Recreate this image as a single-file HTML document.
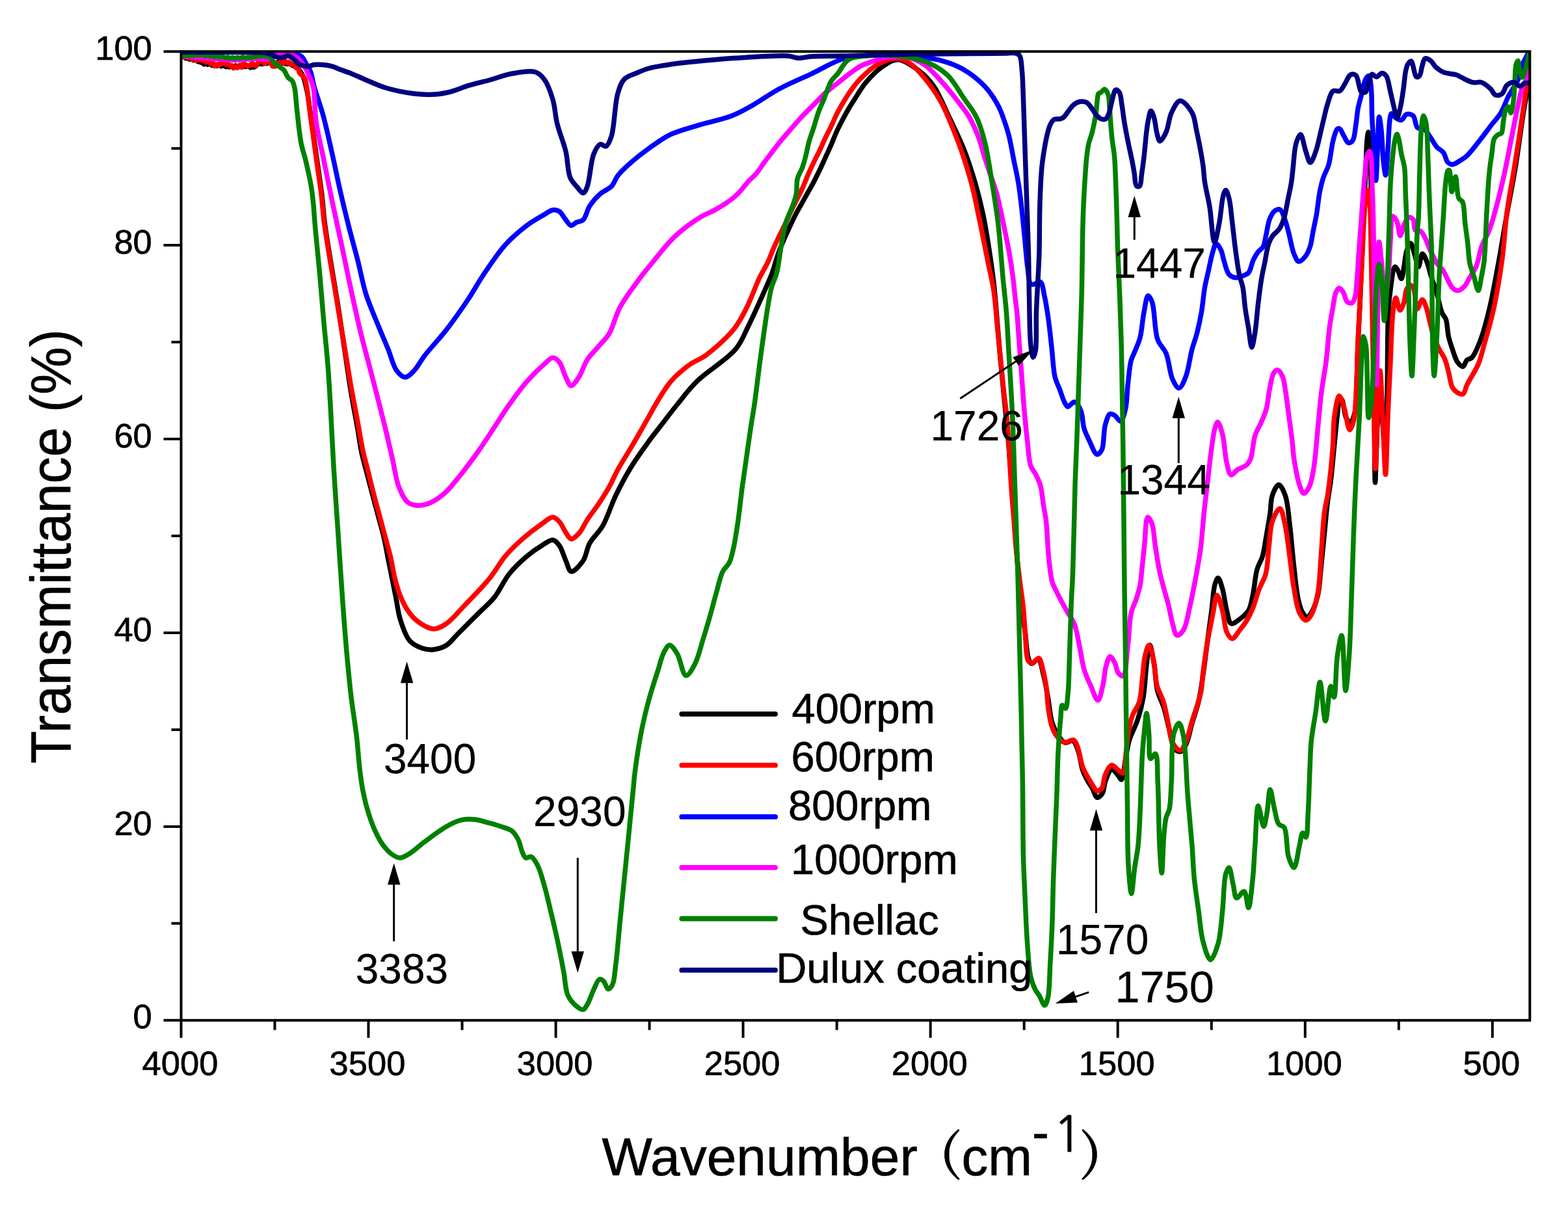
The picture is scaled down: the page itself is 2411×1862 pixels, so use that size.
<!DOCTYPE html>
<html><head><meta charset="utf-8"><style>html,body{margin:0;padding:0;background:#fff;}svg{display:block;}</style></head><body>
<svg xmlns="http://www.w3.org/2000/svg" width="2411" height="1862" viewBox="0 0 2411 1862">
<rect width="2411" height="1862" fill="#ffffff"/>
<defs><clipPath id="pc"><rect x="278.5" y="79.2" width="2073.8" height="1489.6"/></clipPath></defs>
<g clip-path="url(#pc)">
<path d="M278.0 82.0 C278.7 82.9 280.9 85.9 282.4 87.3 C283.6 88.4 284.9 89.8 286.0 89.8 C286.8 89.8 287.4 88.3 288.2 88.4 C289.2 88.4 290.4 91.1 291.6 91.3 C292.7 91.4 293.9 89.7 294.8 89.9 C295.8 90.1 296.2 92.5 297.2 92.7 C298.2 93.0 299.6 91.0 300.6 91.3 C301.8 91.5 302.7 94.5 303.7 94.7 C304.4 94.8 305.1 93.6 305.8 93.7 C306.7 93.8 307.5 95.9 308.5 96.0 C309.5 96.2 310.7 94.5 311.6 94.8 C312.6 95.2 312.8 98.9 313.7 99.0 C314.6 99.1 315.8 95.7 316.7 95.8 C317.6 95.9 318.1 99.1 319.2 99.4 C320.1 99.6 321.5 97.3 322.6 97.5 C323.8 97.6 324.8 100.4 326.1 100.7 C327.3 100.9 328.7 99.2 329.9 99.4 C331.1 99.5 332.2 101.5 333.3 101.5 C334.4 101.4 335.3 99.3 336.3 99.3 C337.4 99.3 338.6 101.8 339.9 101.9 C341.1 102.1 342.4 100.2 343.6 100.2 C344.9 100.4 346.3 102.8 347.4 102.8 C348.3 102.7 349.1 100.7 349.9 100.8 C350.7 100.8 351.3 103.1 352.3 103.2 C353.3 103.4 354.8 101.2 356.0 101.2 C357.2 101.2 358.3 103.2 359.4 103.2 C360.5 103.1 361.7 100.9 362.7 101.0 C363.6 101.0 364.2 103.1 365.1 103.2 C366.1 103.3 367.3 101.4 368.4 101.4 C369.5 101.5 370.6 103.5 371.8 103.5 C372.9 103.5 374.1 101.5 375.2 101.4 C376.1 101.4 377.0 102.8 377.8 102.7 C378.6 102.6 379.3 100.8 380.1 100.7 C380.9 100.7 381.7 101.9 382.6 102.4 C383.5 102.9 384.6 104.0 385.5 103.9 C386.4 103.9 387.4 102.0 388.2 102.0 C389.0 102.0 389.7 103.6 390.5 103.6 C391.5 103.6 392.8 102.3 393.9 101.3 C395.2 100.2 396.2 97.4 397.5 97.1 C398.5 96.8 399.6 98.2 400.8 98.4 C402.0 98.6 403.5 98.5 404.7 98.2 C405.7 97.8 406.5 96.6 407.4 96.6 C408.2 96.6 408.9 97.8 409.7 97.8 C410.6 97.8 411.6 97.0 412.6 96.4 C413.8 95.7 415.1 93.6 416.3 93.6 C417.5 93.5 418.6 95.1 419.7 95.7 C420.8 96.3 421.9 97.0 423.0 97.2 C424.0 97.4 425.0 97.6 425.9 97.2 C427.1 96.7 428.1 93.8 429.1 93.7 C429.9 93.7 430.5 95.6 431.4 96.2 C432.3 96.7 433.5 97.0 434.6 97.2 C435.6 97.4 436.8 97.3 437.7 97.5 C438.5 97.7 439.1 98.3 439.9 98.4 C440.8 98.6 442.0 98.4 443.1 98.3 C444.3 98.1 445.8 96.9 446.9 97.2 C448.1 97.6 448.7 100.3 449.8 100.8 C450.8 101.3 451.9 100.3 453.0 100.6 C454.6 101.2 456.3 103.1 458.0 105.0 C460.3 107.5 463.0 110.7 465.0 115.0 C468.0 121.3 470.0 130.6 472.0 140.0 C474.5 151.7 475.8 164.8 478.0 180.0 C480.9 200.1 485.0 228.6 488.0 250.0 C490.6 268.1 493.1 284.2 495.0 300.0 C496.7 314.1 497.3 326.9 499.0 340.3 C500.7 353.8 503.0 368.1 505.0 380.6 C506.7 391.4 508.3 400.8 510.0 410.9 C511.7 421.0 513.3 431.0 515.0 441.1 C516.7 451.2 518.4 461.3 520.0 471.4 C521.6 481.5 523.0 491.5 524.5 501.6 C526.0 511.7 527.5 521.8 529.0 531.9 C530.5 542.0 532.0 551.7 533.5 562.1 C535.1 573.1 536.7 584.7 538.5 596.0 C540.3 607.3 542.5 619.0 544.5 630.0 C546.4 640.3 548.2 649.7 550.0 660.0 C551.9 671.0 553.3 682.7 555.6 694.0 C558.0 705.4 561.3 716.9 564.2 728.1 C567.0 739.0 569.9 749.5 572.7 760.2 C575.5 770.9 578.4 781.5 581.2 792.2 C584.1 802.9 587.3 813.5 589.8 824.2 C592.3 834.8 594.1 845.5 596.2 856.2 C598.3 866.9 600.5 877.6 602.6 888.3 C604.7 899.0 606.9 909.6 609.0 920.3 C611.1 931.0 612.1 941.7 615.4 952.3 C618.9 963.4 623.2 977.7 630.0 985.3 C635.4 991.4 643.4 994.8 650.0 997.0 C655.6 998.8 661.0 999.3 666.7 998.7 C673.1 998.0 680.7 995.7 686.7 992.0 C693.0 988.1 696.8 981.8 703.3 975.3 C712.5 966.1 726.6 952.1 736.7 942.0 C745.2 933.5 752.7 927.8 760.0 918.7 C768.4 908.2 774.6 892.8 783.3 882.0 C791.4 871.9 801.1 862.8 810.0 855.3 C817.8 848.7 826.0 843.1 833.3 838.7 C839.2 835.2 845.3 829.8 850.0 830.3 C853.9 830.8 857.1 834.7 860.0 838.7 C864.1 844.2 866.7 854.9 870.0 862.0 C872.8 868.1 874.4 878.0 878.3 878.7 C882.9 879.6 892.0 868.9 896.7 862.0 C901.7 854.6 902.0 843.9 906.7 835.3 C911.8 826.0 920.6 819.2 926.7 808.7 C934.2 795.7 939.4 777.1 946.7 762.0 C953.9 747.1 961.5 732.7 970.0 718.7 C978.6 704.7 989.3 690.0 998.0 678.0 C1005.1 668.3 1011.1 661.0 1018.0 652.0 C1025.5 642.3 1032.9 632.3 1041.3 622.0 C1050.6 610.6 1058.9 598.9 1071.3 586.7 C1087.3 570.8 1117.6 553.4 1131.3 536.7 C1141.3 524.5 1144.8 512.9 1151.3 500.0 C1158.2 486.3 1165.1 470.6 1171.3 456.7 C1177.0 444.0 1182.6 432.0 1187.1 420.0 C1191.3 408.7 1194.2 396.5 1197.8 386.7 C1200.7 378.7 1203.7 372.2 1206.7 365.3 C1209.6 358.6 1212.6 352.2 1215.6 345.8 C1218.5 339.7 1221.4 333.6 1224.4 327.8 C1227.3 322.3 1230.3 317.3 1233.3 312.0 C1236.3 306.7 1239.2 301.3 1242.2 296.0 C1245.2 290.7 1248.2 285.5 1251.1 280.0 C1254.1 274.3 1257.1 268.3 1260.0 262.2 C1263.0 255.9 1265.9 249.2 1268.9 242.7 C1271.9 236.2 1274.9 229.8 1277.8 223.1 C1280.8 216.2 1283.6 208.5 1286.7 201.8 C1289.6 195.5 1292.6 189.7 1295.6 184.0 C1298.5 178.5 1301.4 173.1 1304.4 168.0 C1307.3 163.1 1310.3 158.5 1313.3 153.8 C1316.3 149.1 1319.2 144.1 1322.2 139.6 C1325.1 135.3 1327.0 131.8 1331.1 127.1 C1337.4 119.8 1348.8 107.7 1358.0 101.7 C1365.6 96.7 1372.9 91.3 1381.3 91.7 C1391.5 92.2 1405.3 102.8 1414.7 110.0 C1423.1 116.5 1429.0 122.8 1435.5 132.1 C1444.1 144.4 1451.4 163.2 1459.2 179.5 C1467.3 196.4 1476.1 214.3 1482.9 231.7 C1489.4 248.3 1494.7 264.9 1499.5 281.4 C1504.1 297.3 1507.9 312.4 1511.4 328.8 C1515.1 346.3 1518.1 365.3 1520.9 383.3 C1523.6 400.7 1526.0 417.5 1528.0 435.0 C1530.1 453.0 1531.4 471.3 1533.0 490.0 C1534.7 509.6 1536.1 529.1 1538.0 550.0 C1540.1 572.9 1542.7 598.5 1545.0 622.0 C1547.2 644.7 1549.4 666.5 1551.3 688.7 C1553.2 710.9 1554.6 733.1 1556.3 755.3 C1558.0 777.5 1559.6 799.8 1561.3 822.0 C1563.0 844.2 1564.5 868.1 1566.3 888.7 C1567.9 906.6 1569.4 923.7 1571.3 938.7 C1572.8 950.9 1574.7 960.4 1576.3 972.0 C1578.0 984.7 1578.5 1003.8 1581.3 1012.0 C1582.7 1016.0 1584.0 1019.8 1586.3 1020.3 C1588.9 1020.9 1593.5 1012.8 1596.3 1013.7 C1600.4 1015.1 1602.3 1029.7 1604.7 1038.7 C1607.4 1048.9 1609.2 1060.4 1611.3 1072.0 C1613.6 1084.7 1614.5 1101.2 1618.0 1112.0 C1620.6 1120.0 1624.2 1126.7 1628.0 1132.0 C1631.0 1136.2 1634.2 1141.0 1638.0 1142.0 C1641.5 1142.9 1646.5 1137.3 1649.7 1138.7 C1653.6 1140.4 1655.7 1148.9 1658.0 1155.3 C1660.9 1163.4 1661.9 1175.9 1664.7 1184.0 C1666.8 1190.2 1669.4 1195.1 1672.0 1200.0 C1674.3 1204.4 1677.1 1207.8 1679.5 1212.0 C1682.1 1216.5 1684.0 1225.6 1687.0 1226.2 C1689.4 1226.7 1693.0 1223.1 1695.0 1220.0 C1697.9 1215.5 1697.5 1206.2 1700.0 1200.0 C1702.4 1193.9 1705.9 1183.6 1709.4 1183.0 C1712.3 1182.5 1716.4 1189.1 1719.0 1192.0 C1721.1 1194.3 1722.7 1199.2 1724.3 1198.8 C1727.4 1198.1 1728.9 1175.6 1731.0 1165.0 C1732.9 1155.7 1733.6 1147.9 1736.3 1138.7 C1739.5 1128.1 1746.1 1116.6 1749.7 1105.3 C1753.3 1094.3 1755.9 1084.3 1758.0 1072.0 C1760.6 1057.1 1761.1 1036.5 1763.0 1022.0 C1764.5 1010.7 1766.1 992.1 1768.0 992.0 C1770.0 991.9 1772.8 1011.2 1774.7 1022.0 C1776.8 1034.3 1776.8 1050.2 1779.7 1062.0 C1782.2 1072.0 1786.8 1079.2 1789.7 1088.7 C1792.9 1099.1 1795.2 1111.2 1798.0 1122.0 C1800.7 1132.3 1801.7 1147.1 1806.3 1152.0 C1809.0 1154.8 1813.4 1156.3 1816.3 1155.3 C1819.8 1154.0 1822.2 1147.5 1824.7 1142.0 C1828.2 1134.2 1830.0 1122.2 1833.0 1112.0 C1836.1 1101.2 1840.3 1090.4 1843.0 1078.7 C1845.9 1066.1 1847.6 1052.8 1849.7 1038.7 C1852.1 1023.0 1854.1 1005.4 1856.3 988.7 C1858.5 972.0 1861.0 954.4 1863.0 938.7 C1864.8 924.6 1865.4 907.4 1868.0 898.7 C1869.4 894.1 1871.3 888.6 1873.0 888.7 C1875.2 888.8 1877.7 898.7 1879.7 905.3 C1882.4 914.4 1883.7 929.1 1886.3 938.7 C1888.3 946.3 1889.1 957.1 1893.0 958.7 C1896.3 960.0 1902.1 955.0 1906.3 952.0 C1911.0 948.6 1916.4 944.3 1919.7 938.7 C1923.4 932.4 1924.3 924.2 1926.3 915.3 C1928.9 903.8 1929.9 886.2 1933.0 875.3 C1935.3 867.3 1939.1 862.6 1941.3 855.3 C1943.7 847.2 1944.6 838.5 1946.3 828.7 C1948.4 816.7 1951.3 800.7 1953.0 788.7 C1954.4 778.9 1953.7 769.6 1956.3 762.0 C1958.5 755.5 1963.0 745.3 1966.3 745.3 C1969.6 745.3 1973.7 754.8 1976.3 762.0 C1980.2 772.8 1981.0 789.3 1983.0 805.3 C1985.5 825.1 1987.3 851.4 1989.7 872.0 C1991.8 889.9 1993.3 909.2 1996.3 922.0 C1998.2 930.3 2000.1 937.3 2003.0 942.0 C2004.9 945.1 2007.5 948.7 2009.7 948.7 C2011.9 948.7 2014.2 945.3 2016.3 942.0 C2019.9 936.3 2023.9 925.4 2026.3 915.3 C2029.3 902.8 2029.7 887.0 2031.3 872.0 C2033.0 855.9 2034.6 838.7 2036.3 822.0 C2038.0 805.3 2039.4 787.0 2041.3 772.0 C2042.8 759.8 2044.8 750.9 2046.3 738.7 C2048.2 723.7 2049.6 705.4 2051.3 688.7 C2053.0 672.0 2054.6 652.3 2056.3 638.7 C2057.5 629.3 2057.7 617.8 2060.0 615.0 C2060.9 614.0 2062.1 613.5 2063.0 614.0 C2065.8 615.6 2066.6 635.7 2069.7 642.0 C2071.6 645.8 2074.3 650.3 2076.3 650.0 C2078.8 649.7 2081.4 641.5 2083.0 635.0 C2085.7 624.2 2085.2 606.1 2086.0 590.0 C2086.9 571.4 2087.2 550.0 2088.0 530.0 C2088.8 510.0 2090.0 490.8 2091.0 470.0 C2092.0 447.6 2093.0 423.3 2094.0 400.0 C2095.0 376.7 2096.0 353.3 2097.0 330.0 C2098.0 306.7 2099.1 280.8 2100.0 260.0 C2100.7 243.3 2100.9 225.2 2102.0 215.0 C2102.6 209.7 2103.3 203.0 2104.0 203.0 C2104.7 203.0 2105.5 209.7 2106.0 215.0 C2107.0 225.2 2107.0 243.3 2107.5 260.0 C2108.1 280.8 2108.5 303.5 2109.0 330.0 C2109.7 364.6 2110.4 407.8 2111.0 450.0 C2111.7 497.2 2112.4 550.7 2113.0 600.0 C2113.6 648.0 2113.5 742.0 2114.5 742.0 C2115.3 742.0 2116.6 678.6 2118.0 650.0 C2119.2 625.1 2120.7 580.0 2122.0 580.0 C2123.3 580.0 2124.4 628.6 2126.0 650.0 C2127.3 668.1 2129.4 700.0 2130.5 700.0 C2132.1 699.9 2132.3 634.9 2133.0 600.0 C2133.8 561.6 2133.1 508.0 2134.8 479.0 C2135.7 462.6 2136.8 452.6 2138.6 440.6 C2140.2 429.9 2141.9 411.2 2144.7 410.4 C2146.0 410.0 2147.6 412.9 2149.0 415.0 C2151.1 418.2 2153.2 428.6 2154.8 428.5 C2156.6 428.3 2157.5 416.9 2158.8 410.4 C2160.2 402.9 2160.7 392.8 2162.8 386.2 C2164.4 381.3 2167.0 374.0 2168.9 374.1 C2171.1 374.2 2173.0 384.5 2174.9 390.2 C2177.0 396.5 2179.0 410.4 2181.0 410.4 C2183.0 410.4 2184.6 390.5 2187.0 390.2 C2188.8 390.0 2191.2 396.0 2193.1 400.3 C2196.0 406.9 2198.4 418.0 2201.1 426.5 C2203.7 434.7 2206.6 442.1 2209.2 450.7 C2212.1 460.2 2214.2 473.8 2217.3 481.0 C2219.2 485.4 2221.7 486.7 2223.3 491.0 C2225.6 497.5 2225.5 509.2 2227.3 517.3 C2228.9 524.5 2231.1 530.7 2233.4 537.4 C2235.8 544.2 2238.1 553.1 2241.5 557.6 C2243.8 560.6 2247.2 564.0 2249.5 563.6 C2252.0 563.1 2253.1 555.8 2255.6 553.5 C2257.7 551.6 2260.6 552.4 2263.0 550.0 C2267.6 545.5 2272.3 533.6 2276.3 523.3 C2281.4 510.1 2285.6 493.7 2289.7 476.7 C2294.6 456.5 2298.7 433.0 2303.0 410.0 C2307.6 385.4 2311.8 358.6 2316.3 333.3 C2320.7 308.6 2325.4 285.7 2329.7 260.0 C2334.4 231.6 2339.0 194.8 2343.0 170.0 C2345.9 152.4 2349.7 132.5 2351.0 125.0" fill="none" stroke="#000000" stroke-width="7.5" stroke-linejoin="round" stroke-linecap="round"/>
<path d="M278.0 86.0 C279.0 86.3 282.3 87.9 284.0 87.7 C285.3 87.6 286.4 85.9 287.5 86.1 C288.6 86.3 289.5 89.2 290.4 89.2 C291.2 89.2 291.9 87.0 292.7 87.1 C293.6 87.2 294.6 91.8 295.5 91.8 C296.5 91.8 297.4 87.2 298.4 87.2 C299.6 87.2 301.2 93.4 302.2 93.4 C303.1 93.4 303.5 89.2 304.4 89.0 C305.2 88.9 306.2 92.2 307.2 92.3 C307.9 92.4 308.6 90.7 309.3 90.8 C310.3 90.9 311.3 93.7 312.3 93.8 C313.1 93.9 314.1 91.9 314.8 92.0 C315.7 92.2 316.0 95.5 316.9 95.8 C317.8 96.0 319.1 93.9 320.2 94.0 C321.5 94.2 322.5 97.5 323.8 97.8 C324.9 98.1 326.3 96.6 327.2 97.0 C328.5 97.5 329.1 101.7 330.1 101.8 C330.9 101.9 331.7 99.2 332.8 99.0 C333.8 98.8 335.4 100.8 336.4 100.5 C337.3 100.2 337.6 97.5 338.5 97.1 C339.3 96.9 340.5 98.3 341.4 98.1 C342.6 97.8 343.7 94.6 344.7 94.7 C345.8 94.8 346.5 98.7 347.6 99.1 C348.5 99.4 349.8 97.7 350.7 97.9 C351.6 98.2 351.8 100.7 352.8 101.1 C353.8 101.6 355.7 100.2 356.7 100.7 C357.8 101.3 358.1 104.6 359.1 104.8 C360.1 105.1 361.5 102.6 362.6 102.7 C363.5 102.7 364.3 104.5 365.1 104.4 C366.2 104.2 367.2 100.2 368.3 100.2 C369.3 100.1 370.4 103.7 371.3 103.6 C372.6 103.5 373.5 96.9 374.8 96.7 C375.9 96.6 377.1 99.3 378.3 100.2 C379.3 100.9 380.3 101.9 381.4 101.9 C382.6 101.9 383.9 100.7 385.1 99.9 C386.2 99.1 387.1 97.0 388.1 97.0 C389.0 97.0 389.8 99.1 390.8 99.8 C391.8 100.6 393.1 101.8 394.0 101.6 C395.1 101.3 395.6 98.7 396.5 97.1 C397.6 95.4 398.8 91.9 400.2 91.8 C401.3 91.6 402.5 93.9 403.7 94.9 C404.8 95.9 406.0 97.6 407.0 97.6 C407.8 97.6 408.5 96.6 409.2 96.0 C410.0 95.1 410.7 92.9 411.5 92.9 C412.2 92.9 412.8 95.2 413.7 95.6 C414.4 96.0 415.4 95.2 416.1 95.7 C417.3 96.5 417.8 101.4 419.0 102.1 C419.7 102.4 420.4 101.9 421.1 101.8 C421.9 101.8 422.8 102.3 423.6 101.9 C424.7 101.3 425.4 97.6 426.6 97.2 C427.6 96.9 429.2 99.1 430.2 98.7 C431.3 98.2 431.5 93.4 432.5 93.2 C433.5 93.1 434.9 96.9 435.9 96.9 C436.8 96.8 437.5 93.6 438.4 93.5 C439.3 93.5 440.4 96.7 441.4 96.9 C442.3 97.0 443.3 95.0 444.2 95.2 C445.4 95.4 446.2 98.9 447.5 99.5 C448.6 100.0 450.2 98.6 451.3 99.1 C452.8 99.7 453.6 103.4 455.0 104.3 C456.0 105.0 457.5 104.3 458.4 105.1 C459.7 106.3 459.2 109.8 460.5 112.0 C462.1 114.6 466.1 116.5 467.8 119.4 C469.6 122.4 470.0 125.2 471.0 130.0 C473.0 139.5 474.5 156.7 476.7 173.0 C479.6 194.3 483.6 224.1 486.7 246.7 C489.4 265.9 492.2 283.5 494.2 300.0 C495.9 314.4 496.5 326.9 498.2 340.3 C499.9 353.8 502.3 368.1 504.3 380.6 C506.0 391.4 507.6 400.8 509.3 410.9 C511.0 421.0 512.7 431.0 514.4 441.1 C516.1 451.2 517.7 461.3 519.4 471.4 C521.1 481.5 522.7 491.5 524.4 501.6 C526.1 511.7 527.8 521.8 529.5 531.9 C531.2 542.0 532.8 551.7 534.5 562.1 C536.3 573.1 538.0 584.7 540.0 596.0 C542.0 607.3 544.4 619.0 546.5 630.0 C548.4 640.3 550.1 649.8 552.0 660.0 C553.9 670.5 555.5 681.2 557.8 692.0 C560.2 703.2 563.5 714.6 566.3 726.0 C569.1 737.4 571.9 749.0 574.8 760.2 C577.6 771.1 580.5 781.5 583.4 792.2 C586.2 802.9 589.1 813.5 591.9 824.2 C594.8 834.9 598.0 845.5 600.5 856.2 C603.0 866.9 604.3 878.1 606.9 888.3 C609.3 897.9 612.0 907.5 615.4 916.0 C618.5 923.7 621.8 930.9 626.1 937.4 C630.3 943.7 634.8 949.7 641.0 954.5 C648.0 959.8 658.6 966.8 666.7 967.0 C673.7 967.2 680.0 963.2 686.7 958.7 C695.5 952.8 703.6 942.1 713.3 932.0 C725.4 919.4 742.1 902.6 753.3 888.7 C762.6 877.2 768.2 865.5 776.7 855.3 C784.9 845.5 793.9 837.0 803.3 828.7 C812.8 820.3 824.6 811.3 833.3 805.3 C839.5 801.0 845.2 795.2 850.0 795.3 C853.8 795.4 857.0 798.8 860.0 802.0 C863.8 806.0 866.6 814.0 870.0 818.7 C872.7 822.6 875.1 828.3 878.3 828.7 C881.7 829.1 886.3 824.2 890.0 820.3 C894.9 815.1 898.5 806.0 903.3 798.7 C908.4 791.0 914.6 783.4 920.0 775.3 C925.7 766.8 931.6 757.7 936.7 748.7 C941.6 739.9 944.9 731.3 950.0 722.0 C955.8 711.4 962.8 700.9 970.0 688.7 C978.6 674.0 991.1 652.3 998.0 640.0 C1002.2 632.6 1003.8 628.9 1008.0 622.0 C1014.0 612.1 1022.3 597.1 1031.3 586.7 C1040.1 576.5 1051.6 567.0 1061.3 560.0 C1069.3 554.3 1076.1 553.0 1084.7 546.7 C1097.4 537.4 1117.0 520.2 1128.0 506.7 C1136.9 495.7 1141.7 485.6 1148.0 473.3 C1155.2 459.3 1161.9 439.3 1168.0 426.7 C1172.3 417.8 1176.5 411.8 1180.0 404.4 C1183.4 397.3 1185.9 390.0 1188.9 383.1 C1191.8 376.4 1194.8 369.9 1197.8 363.6 C1200.7 357.5 1203.8 351.9 1206.7 345.8 C1209.7 339.5 1212.6 332.6 1215.6 326.2 C1218.5 320.1 1221.4 314.3 1224.4 308.4 C1227.3 302.5 1230.4 296.9 1233.3 290.7 C1236.4 284.0 1239.2 276.2 1242.2 269.3 C1245.1 262.6 1248.1 256.1 1251.1 249.8 C1254.0 243.7 1257.1 238.1 1260.0 232.0 C1263.0 225.7 1265.9 218.7 1268.9 212.4 C1271.8 206.3 1274.9 200.8 1277.8 194.7 C1280.8 188.4 1283.6 181.2 1286.7 175.1 C1289.6 169.4 1292.6 164.2 1295.6 159.1 C1298.5 154.2 1301.4 149.4 1304.4 144.9 C1307.3 140.6 1310.3 136.3 1313.3 132.4 C1316.2 128.7 1318.2 125.8 1322.2 121.8 C1328.4 115.6 1338.5 105.3 1348.0 100.0 C1357.2 94.8 1369.0 90.0 1378.0 90.0 C1385.3 90.0 1391.4 92.5 1398.0 96.7 C1406.9 102.3 1416.5 113.9 1424.7 124.0 C1433.3 134.6 1440.8 145.7 1448.0 159.0 C1456.5 174.7 1465.1 197.1 1471.3 213.0 C1476.1 225.3 1479.2 234.4 1483.0 246.0 C1487.1 258.7 1491.1 271.7 1494.8 286.2 C1499.1 302.9 1502.7 322.1 1506.6 340.7 C1510.6 360.0 1514.8 381.3 1518.5 399.9 C1521.8 416.6 1525.5 430.7 1528.0 447.3 C1530.7 465.4 1531.9 486.1 1533.7 504.5 C1535.4 521.7 1537.0 537.7 1538.7 554.3 C1540.4 570.9 1542.0 589.0 1543.7 604.2 C1545.1 617.1 1546.8 627.1 1548.0 640.0 C1549.4 655.3 1550.4 672.6 1551.5 690.0 C1552.7 709.1 1553.7 730.9 1555.0 750.0 C1556.2 767.4 1557.7 783.3 1559.0 800.0 C1560.3 816.7 1561.3 833.3 1563.0 850.0 C1564.7 866.7 1567.1 884.8 1569.0 900.0 C1570.6 912.7 1572.3 922.9 1573.5 935.0 C1574.8 947.9 1575.3 961.6 1576.5 975.0 C1577.8 988.6 1577.0 1010.0 1581.0 1016.0 C1582.7 1018.5 1585.0 1019.7 1587.3 1019.5 C1590.3 1019.3 1594.7 1011.2 1597.3 1012.0 C1600.5 1013.0 1601.7 1023.0 1603.5 1029.4 C1605.6 1036.9 1607.1 1045.1 1608.5 1054.3 C1610.2 1065.5 1610.5 1080.5 1612.2 1091.7 C1613.6 1100.9 1614.8 1109.5 1617.2 1116.6 C1619.2 1122.4 1621.3 1127.4 1624.7 1131.6 C1628.0 1135.7 1632.6 1140.6 1637.1 1141.5 C1641.3 1142.4 1647.4 1136.4 1650.8 1137.8 C1654.0 1139.1 1655.2 1144.2 1657.1 1149.0 C1660.0 1156.4 1661.5 1170.8 1664.5 1178.9 C1666.7 1184.9 1669.4 1189.1 1672.0 1193.8 C1674.4 1198.2 1676.9 1202.4 1679.5 1206.3 C1681.9 1209.9 1684.3 1215.7 1687.0 1216.2 C1689.3 1216.6 1692.5 1214.0 1694.4 1211.3 C1697.3 1207.2 1696.7 1197.3 1699.4 1191.3 C1701.9 1185.7 1705.7 1177.0 1709.4 1176.4 C1712.5 1175.9 1716.2 1181.7 1719.3 1183.9 C1721.9 1185.8 1724.9 1189.7 1726.8 1188.8 C1730.7 1187.1 1730.2 1165.8 1731.8 1154.0 C1733.5 1141.8 1734.7 1126.7 1736.8 1116.6 C1738.2 1109.6 1739.4 1105.1 1741.7 1099.2 C1744.2 1092.7 1749.3 1087.2 1751.7 1079.3 C1754.9 1069.0 1755.2 1053.9 1756.7 1041.9 C1758.1 1030.7 1758.3 1018.5 1760.4 1009.5 C1762.0 1002.7 1764.6 992.0 1766.7 992.1 C1769.2 992.2 1772.1 1007.8 1774.1 1017.0 C1776.5 1028.1 1776.2 1043.3 1779.1 1054.3 C1781.6 1063.6 1786.3 1070.3 1789.1 1079.3 C1792.2 1089.4 1793.9 1101.3 1796.3 1112.0 C1798.6 1122.2 1799.0 1134.7 1803.0 1142.0 C1805.9 1147.4 1811.3 1154.0 1814.7 1153.7 C1817.9 1153.4 1820.5 1147.2 1823.0 1142.0 C1826.9 1134.0 1829.4 1120.5 1833.0 1108.7 C1837.1 1095.2 1843.5 1078.6 1846.3 1065.3 C1848.5 1054.5 1848.3 1046.4 1849.7 1035.3 C1851.5 1021.5 1853.8 1003.9 1856.3 988.7 C1858.8 973.9 1862.0 958.4 1864.7 945.3 C1867.0 934.4 1868.6 915.5 1871.3 915.3 C1873.7 915.1 1877.3 930.1 1879.7 938.7 C1882.5 948.7 1882.7 964.4 1886.3 972.0 C1888.6 976.7 1891.7 982.0 1894.7 982.0 C1898.2 982.0 1902.7 973.2 1906.3 968.7 C1909.8 964.3 1913.2 960.4 1916.3 955.3 C1919.9 949.4 1923.2 942.8 1926.3 935.3 C1930.0 926.4 1932.8 914.6 1936.3 905.3 C1939.5 897.0 1943.9 891.2 1946.3 882.0 C1949.5 870.0 1949.6 852.5 1951.3 838.7 C1952.9 826.0 1952.8 812.1 1956.3 802.0 C1959.1 794.0 1964.8 781.6 1968.0 782.0 C1971.6 782.4 1974.0 798.5 1976.3 808.7 C1979.3 822.0 1980.8 839.5 1983.0 855.3 C1985.3 871.7 1986.9 890.0 1989.7 905.3 C1992.1 918.5 1993.7 933.5 1998.0 942.0 C2000.7 947.4 2004.8 953.6 2008.0 953.7 C2010.8 953.8 2013.8 949.5 2016.3 945.3 C2020.5 938.2 2023.9 924.7 2026.3 912.0 C2029.4 895.7 2029.7 875.0 2031.3 855.3 C2033.0 834.0 2034.1 805.9 2036.3 788.7 C2037.7 777.8 2039.8 771.8 2041.3 762.0 C2043.2 750.0 2044.9 735.3 2046.3 722.0 C2047.7 708.7 2048.8 695.4 2049.7 682.0 C2050.6 668.5 2049.9 653.9 2051.7 641.2 C2053.3 629.7 2056.3 609.1 2059.2 608.8 C2061.4 608.6 2064.3 619.3 2066.6 626.2 C2069.8 635.7 2072.4 660.9 2075.4 661.1 C2077.4 661.2 2080.0 652.5 2081.6 646.1 C2084.1 635.7 2084.3 619.9 2085.3 603.8 C2086.6 582.4 2086.9 551.5 2087.8 529.1 C2088.6 510.8 2089.5 495.9 2090.3 479.3 C2091.1 462.7 2092.0 446.0 2092.8 429.4 C2093.6 412.8 2094.5 396.2 2095.3 379.6 C2096.1 363.0 2096.7 344.3 2097.8 329.8 C2098.7 318.6 2099.4 306.5 2101.0 300.0 C2101.8 296.6 2103.2 292.5 2104.0 292.6 C2105.0 292.7 2105.4 299.2 2106.0 305.0 C2107.3 318.3 2107.4 346.3 2108.0 371.0 C2108.8 402.8 2109.3 441.4 2110.0 480.0 C2110.8 523.8 2111.5 577.1 2112.4 620.0 C2113.2 656.4 2113.9 721.0 2114.9 721.0 C2115.8 721.0 2116.8 666.0 2118.0 640.0 C2119.2 615.8 2120.7 570.0 2122.0 570.0 C2123.3 570.0 2124.7 615.2 2126.0 640.0 C2127.5 668.0 2129.2 729.6 2130.5 729.6 C2131.8 729.6 2132.8 668.6 2134.0 640.0 C2135.1 613.8 2136.3 590.5 2137.6 564.6 C2139.0 537.0 2139.6 497.9 2142.0 479.0 C2143.2 469.5 2144.4 458.0 2146.2 457.9 C2148.0 457.8 2150.4 476.7 2152.7 476.9 C2154.6 477.0 2157.2 469.5 2158.8 464.8 C2160.8 459.1 2160.4 449.2 2162.8 444.7 C2164.4 441.8 2167.0 438.5 2168.9 438.6 C2170.7 438.7 2172.6 441.8 2174.0 445.0 C2176.7 451.1 2176.2 474.4 2179.0 474.9 C2181.1 475.3 2184.6 460.7 2187.0 460.8 C2189.2 460.9 2191.3 468.1 2193.1 472.9 C2195.5 479.5 2197.0 489.2 2199.1 497.1 C2201.1 504.7 2202.7 512.4 2205.2 519.3 C2207.5 525.7 2210.4 531.8 2213.2 537.4 C2215.8 542.5 2219.0 546.2 2221.3 551.5 C2223.9 557.5 2225.4 564.6 2227.3 571.7 C2229.4 579.4 2230.2 590.3 2233.4 595.9 C2235.6 599.7 2238.6 602.3 2241.5 604.0 C2244.0 605.4 2247.3 607.1 2249.5 606.0 C2252.5 604.5 2253.6 595.9 2255.6 591.9 C2257.1 588.8 2258.1 587.2 2260.0 583.8 C2263.2 578.0 2269.3 568.8 2273.0 560.0 C2277.2 550.0 2279.5 539.0 2283.0 526.7 C2287.2 511.8 2292.2 495.2 2296.3 476.7 C2301.3 454.0 2306.1 425.5 2309.6 400.0 C2313.1 374.7 2314.2 347.9 2317.4 324.3 C2320.2 303.4 2324.2 284.3 2327.2 265.6 C2330.0 248.6 2332.6 232.1 2335.0 216.7 C2337.1 202.9 2338.9 190.6 2340.8 177.6 C2342.8 164.6 2344.7 148.6 2346.7 138.5 C2348.0 132.1 2349.9 125.4 2350.6 122.8" fill="none" stroke="#ff0000" stroke-width="7.5" stroke-linejoin="round" stroke-linecap="round"/>
<path d="M278.0 80.2 C298.3 80.2 367.7 80.1 400.0 80.2 C421.3 80.3 446.9 78.4 453.0 80.5 C454.5 81.0 454.3 81.7 455.4 82.4 C457.4 83.7 461.7 85.0 464.1 87.3 C466.7 89.8 468.2 93.6 470.3 97.2 C472.7 101.3 475.7 105.6 477.7 110.8 C480.1 117.2 480.6 124.4 483.0 133.0 C486.4 145.2 492.4 161.1 496.7 176.7 C501.5 194.2 505.7 213.9 510.0 233.0 C514.5 252.7 518.5 273.3 523.0 293.0 C527.4 312.3 532.1 331.6 536.7 350.0 C541.1 367.2 545.7 383.1 550.0 400.0 C554.4 417.4 557.7 436.3 563.0 453.0 C567.9 468.4 574.3 482.5 580.0 496.7 C585.5 510.4 591.5 524.0 596.7 536.7 C601.4 548.3 604.4 562.6 610.0 570.0 C613.8 575.0 618.6 579.9 623.0 580.0 C627.5 580.1 632.3 574.5 636.7 570.0 C642.4 564.2 646.4 555.3 653.0 546.7 C662.0 535.0 675.8 520.8 686.7 506.7 C698.1 492.0 710.1 474.8 720.0 460.0 C728.6 447.1 734.3 435.9 743.0 423.0 C752.9 408.3 764.8 389.9 776.7 376.7 C787.3 365.0 799.2 354.9 810.0 346.7 C819.1 339.8 829.3 334.3 836.7 330.0 C841.8 327.0 845.8 323.6 850.0 323.0 C853.5 322.5 857.0 323.1 860.0 325.0 C863.8 327.4 866.8 334.2 870.0 338.0 C872.7 341.3 875.1 346.3 878.0 346.7 C880.7 347.1 883.6 343.1 886.7 341.7 C889.9 340.2 893.8 340.7 896.7 338.0 C901.0 334.0 902.4 323.3 906.7 316.7 C911.1 309.9 917.1 303.1 923.0 298.0 C928.3 293.3 935.5 291.4 940.0 286.7 C944.4 282.1 945.7 275.6 950.0 270.0 C955.2 263.3 962.6 256.6 970.0 250.0 C978.4 242.6 988.1 235.0 998.0 228.0 C1008.5 220.6 1019.3 212.4 1031.3 206.7 C1043.7 200.8 1056.9 197.7 1071.3 193.3 C1087.8 188.2 1109.7 184.1 1124.7 178.3 C1136.4 173.8 1143.9 169.3 1154.7 163.3 C1168.0 155.9 1182.8 144.9 1198.0 136.7 C1213.8 128.2 1231.3 121.1 1248.0 113.3 C1264.7 105.5 1280.9 94.7 1298.0 90.0 C1314.3 85.5 1331.3 85.7 1348.0 85.0 C1364.6 84.3 1381.4 84.6 1398.0 86.0 C1414.7 87.4 1433.2 89.3 1448.0 93.3 C1460.4 96.7 1470.6 100.5 1481.3 106.7 C1492.9 113.5 1505.5 123.4 1514.7 133.3 C1523.1 142.3 1530.0 153.3 1535.1 162.9 C1539.4 171.0 1541.7 178.6 1544.5 186.6 C1547.2 194.4 1549.5 201.5 1551.7 210.3 C1554.4 220.9 1556.4 234.0 1558.8 245.9 C1561.2 257.7 1563.9 269.5 1565.9 281.4 C1567.9 293.2 1569.1 304.3 1570.6 317.0 C1572.3 331.7 1573.8 348.6 1575.4 364.4 C1577.0 380.2 1578.2 398.6 1580.1 411.8 C1581.5 421.5 1581.6 433.9 1584.7 436.7 C1586.1 438.0 1588.0 437.3 1590.0 437.0 C1592.8 436.6 1597.2 432.2 1599.7 433.5 C1603.4 435.4 1604.0 446.6 1605.9 454.7 C1608.3 465.3 1610.4 479.2 1612.2 492.1 C1614.1 505.7 1615.5 520.1 1617.1 534.4 C1618.8 549.1 1619.3 567.5 1622.1 579.3 C1624.0 587.4 1627.1 592.6 1629.6 599.2 C1632.1 605.8 1634.5 614.5 1637.1 619.1 C1638.7 621.9 1639.9 625.0 1642.0 625.3 C1644.6 625.6 1648.9 617.4 1652.0 617.9 C1655.6 618.5 1659.6 625.9 1662.0 631.6 C1665.1 638.9 1664.6 651.0 1667.0 659.0 C1669.0 665.6 1671.4 670.3 1674.4 676.4 C1677.9 683.5 1682.9 698.3 1686.9 698.8 C1689.4 699.1 1692.4 695.2 1694.3 691.3 C1697.9 683.9 1696.6 664.0 1699.3 654.0 C1701.3 646.9 1703.5 638.0 1706.8 636.5 C1709.0 635.5 1711.9 637.5 1714.3 639.0 C1717.3 640.9 1720.5 648.2 1723.0 647.7 C1726.2 647.1 1728.7 636.5 1730.5 629.1 C1733.0 618.9 1732.8 604.2 1734.2 591.7 C1735.7 579.2 1736.6 563.8 1739.2 554.3 C1740.9 548.1 1743.3 544.7 1745.4 539.4 C1747.8 533.3 1750.8 527.4 1752.9 519.5 C1755.8 508.6 1756.7 491.3 1759.1 479.6 C1761.0 470.3 1762.6 455.1 1765.3 454.7 C1767.1 454.4 1769.8 459.7 1771.6 464.7 C1775.7 475.7 1774.9 507.9 1780.0 522.0 C1783.3 531.3 1789.4 534.8 1793.0 543.3 C1797.6 554.3 1798.5 573.8 1803.0 583.3 C1805.9 589.3 1809.8 596.9 1813.0 596.7 C1816.5 596.5 1820.1 587.2 1823.0 580.0 C1827.4 569.2 1829.7 548.8 1833.0 536.7 C1835.4 527.9 1837.8 522.5 1840.0 514.1 C1842.7 503.8 1845.4 491.2 1847.5 479.3 C1849.6 467.1 1850.6 452.7 1852.5 441.9 C1854.0 433.4 1855.6 427.6 1857.4 419.5 C1859.6 409.7 1862.3 395.3 1864.9 387.1 C1866.5 381.9 1867.8 374.9 1869.9 374.6 C1872.0 374.3 1875.4 380.6 1877.4 384.6 C1879.8 389.4 1880.3 396.0 1882.3 402.0 C1884.4 408.5 1886.1 417.9 1889.8 422.0 C1892.5 425.0 1896.4 426.6 1899.8 427.0 C1903.0 427.4 1906.5 425.7 1909.7 424.5 C1913.1 423.2 1917.0 422.5 1919.7 419.5 C1923.4 415.4 1924.4 405.4 1927.2 399.6 C1929.5 394.8 1931.9 390.6 1934.6 387.1 C1936.9 384.1 1940.1 383.0 1942.1 379.6 C1944.8 374.8 1945.5 366.5 1947.1 359.7 C1948.8 352.5 1949.6 343.5 1952.1 337.3 C1954.1 332.3 1956.4 327.2 1959.6 324.8 C1962.1 322.9 1965.9 321.2 1968.3 322.3 C1971.6 323.8 1973.5 331.7 1975.7 337.3 C1978.2 343.9 1979.9 351.7 1982.0 359.7 C1984.4 368.9 1986.2 382.0 1989.4 389.6 C1991.6 394.8 1993.8 401.4 1996.9 402.0 C1999.7 402.6 2004.1 397.9 2006.9 394.6 C2010.1 390.7 2012.3 385.4 2014.3 379.6 C2016.7 372.5 2017.6 363.0 2019.3 354.7 C2021.0 346.4 2022.7 338.8 2024.3 329.8 C2026.1 319.2 2027.3 305.1 2029.3 294.9 C2030.9 286.8 2032.4 280.3 2034.7 273.3 C2037.0 266.4 2040.7 261.1 2043.0 253.3 C2046.0 243.1 2047.0 226.7 2049.7 216.7 C2051.7 209.4 2053.7 200.3 2056.3 198.3 C2057.4 197.4 2058.8 197.4 2060.0 198.0 C2062.3 199.2 2064.3 205.9 2066.6 209.6 C2068.8 213.1 2070.7 218.9 2073.3 219.6 C2075.3 220.1 2078.2 218.5 2079.9 216.2 C2083.1 211.9 2083.5 199.6 2084.9 191.3 C2086.3 183.0 2086.7 174.2 2088.2 166.4 C2089.5 159.4 2091.4 153.5 2093.2 146.5 C2095.2 138.7 2097.1 126.5 2099.9 121.6 C2101.4 119.0 2103.5 116.2 2104.8 116.6 C2106.8 117.2 2107.4 126.1 2108.2 133.2 C2109.6 145.3 2109.0 166.4 2109.8 183.0 C2110.6 199.6 2112.1 216.6 2113.1 232.8 C2114.0 248.2 2114.8 277.7 2115.6 277.7 C2116.4 277.7 2117.3 248.4 2118.1 232.8 C2119.0 215.8 2119.2 179.8 2120.6 179.7 C2121.5 179.6 2122.9 191.4 2123.9 199.6 C2125.4 212.4 2125.8 236.7 2127.3 249.5 C2128.3 257.7 2129.6 269.4 2130.6 269.4 C2131.9 269.4 2132.9 245.9 2133.9 232.8 C2135.1 217.5 2135.5 192.6 2137.2 183.0 C2137.9 179.0 2138.2 175.1 2139.7 174.7 C2141.2 174.3 2143.9 179.7 2146.4 181.4 C2148.9 183.0 2152.1 185.3 2154.7 184.7 C2157.7 184.0 2159.8 176.6 2163.0 175.6 C2165.9 174.7 2170.3 175.7 2172.9 178.0 C2176.5 181.2 2176.0 193.3 2179.6 196.3 C2182.2 198.5 2186.5 196.2 2189.5 198.0 C2193.3 200.3 2196.2 206.7 2199.5 211.3 C2202.9 216.1 2205.8 222.2 2209.4 226.2 C2212.5 229.6 2216.7 230.9 2219.4 234.5 C2222.4 238.5 2223.2 246.5 2226.1 249.5 C2228.2 251.6 2230.6 252.9 2233.3 252.9 C2236.7 252.9 2241.3 249.2 2245.0 247.0 C2248.5 244.9 2251.5 243.2 2254.8 240.2 C2259.2 236.2 2264.0 229.9 2268.5 224.5 C2273.1 218.9 2277.8 212.6 2282.2 206.9 C2286.3 201.6 2289.8 196.6 2293.9 191.3 C2298.3 185.6 2303.5 180.4 2307.6 173.7 C2312.1 166.2 2315.9 154.6 2319.3 148.2 C2321.5 144.1 2323.0 142.2 2325.2 138.5 C2328.1 133.5 2332.4 127.2 2335.0 120.9 C2337.7 114.2 2338.6 105.0 2340.8 99.3 C2342.3 95.3 2344.1 92.8 2345.7 89.6 C2347.3 86.3 2349.8 81.4 2350.6 79.8" fill="none" stroke="#0000ff" stroke-width="7.5" stroke-linejoin="round" stroke-linecap="round"/>
<path d="M278.0 85.0 C280.0 85.3 287.3 87.2 290.0 87.1 C291.4 87.0 292.1 86.2 293.1 86.3 C294.2 86.4 295.3 88.0 296.3 88.1 C297.1 88.1 297.7 87.2 298.5 87.2 C299.5 87.2 301.0 88.6 302.1 88.6 C303.0 88.5 303.8 87.1 304.6 87.2 C305.6 87.3 306.6 89.3 307.6 89.3 C308.5 89.4 309.6 87.8 310.5 87.9 C311.4 88.0 312.0 89.5 312.9 89.7 C313.9 89.8 315.4 88.4 316.6 88.5 C317.7 88.6 319.0 90.3 320.0 90.2 C320.8 90.2 321.4 88.8 322.2 88.8 C323.1 88.7 324.4 90.5 325.4 90.5 C326.2 90.4 326.8 89.1 327.5 89.1 C328.4 89.2 329.4 91.0 330.5 91.1 C331.6 91.3 332.9 89.7 334.2 89.7 C335.4 89.8 336.7 91.3 337.9 91.4 C339.1 91.5 340.3 90.2 341.5 90.3 C342.7 90.4 344.1 92.2 345.2 92.2 C346.1 92.1 346.7 90.9 347.5 90.9 C348.3 90.9 349.1 92.5 350.0 92.5 C350.9 92.5 352.0 90.9 352.9 90.9 C353.8 90.9 354.6 92.5 355.5 92.6 C356.4 92.6 357.4 91.4 358.3 91.4 C359.4 91.5 360.4 93.0 361.5 93.0 C362.7 93.0 364.0 91.3 365.2 91.3 C366.5 91.2 367.7 92.8 369.0 92.7 C370.3 92.6 371.7 90.6 372.9 90.7 C373.8 90.7 374.4 92.2 375.3 92.2 C376.4 92.2 377.9 90.1 379.1 90.0 C380.2 90.0 381.3 91.6 382.2 91.5 C383.1 91.5 383.8 89.8 384.7 89.6 C385.6 89.5 386.9 91.0 387.8 90.8 C388.7 90.7 389.2 89.3 390.0 89.2 C391.1 89.0 392.7 90.3 393.9 90.3 C395.1 90.3 396.4 89.3 397.5 89.4 C398.4 89.5 398.9 90.7 399.8 90.8 C400.9 90.9 402.3 89.3 403.3 89.5 C404.2 89.7 404.8 91.3 405.5 91.3 C406.2 91.4 406.9 89.9 407.7 89.9 C408.5 89.9 409.4 91.8 410.4 91.8 C411.5 91.8 412.9 89.8 414.2 89.3 C415.5 88.9 417.1 89.4 418.1 88.8 C419.1 88.3 419.6 86.7 420.4 86.4 C421.0 86.2 421.8 86.9 422.5 86.7 C423.5 86.4 424.4 84.5 425.4 84.1 C426.1 83.8 426.9 84.4 427.7 84.2 C428.9 83.9 430.1 81.9 431.4 81.8 C432.6 81.7 434.1 83.6 435.2 83.5 C436.2 83.5 437.1 82.0 438.0 82.0 C439.0 82.0 440.0 83.6 441.1 83.6 C442.1 83.6 443.2 82.1 444.2 82.2 C445.3 82.4 446.3 84.5 447.4 84.8 C448.4 85.1 449.5 84.2 450.5 84.5 C451.6 84.8 452.9 86.8 453.9 87.2 C454.4 87.4 454.8 87.0 455.4 87.3 C457.1 88.1 460.5 91.8 462.9 94.7 C465.6 97.9 468.0 101.8 470.3 105.9 C472.8 110.5 475.0 116.0 477.0 121.0 C478.9 125.7 480.7 128.7 482.0 135.0 C484.5 146.7 483.5 168.9 486.0 186.7 C488.7 206.0 493.9 226.2 498.0 246.7 C502.3 268.3 506.8 290.9 511.5 313.0 C516.2 335.3 521.2 357.7 526.0 380.0 C530.7 402.3 535.2 424.5 540.0 446.7 C544.8 468.9 549.9 492.1 555.0 513.0 C559.6 531.9 564.3 548.7 569.0 566.7 C573.8 585.0 579.0 605.0 583.3 622.0 C587.0 636.4 590.0 648.4 593.3 662.0 C596.7 676.1 600.0 690.6 603.3 705.0 C606.6 719.5 608.6 736.7 613.3 748.7 C616.9 758.0 621.3 767.4 626.7 772.0 C630.6 775.3 635.0 776.5 640.0 777.0 C645.9 777.6 653.3 776.3 660.0 773.7 C667.8 770.7 675.9 765.0 683.3 758.7 C691.6 751.5 698.6 742.0 706.7 732.0 C716.3 720.2 727.2 705.5 736.7 692.0 C746.0 678.8 755.4 664.0 763.3 652.0 C769.8 642.1 774.2 634.7 781.0 625.0 C789.3 613.2 800.1 598.0 810.0 586.7 C818.7 576.7 829.1 566.6 836.7 560.0 C841.7 555.6 845.8 550.1 850.0 550.0 C853.5 549.9 857.1 553.2 860.0 556.7 C864.2 561.8 866.6 573.5 870.0 580.0 C872.6 585.1 874.8 592.7 878.0 593.0 C881.4 593.3 886.3 585.5 890.0 580.0 C894.8 572.9 897.8 561.0 903.0 553.0 C907.9 545.5 914.4 539.7 920.0 533.0 C925.6 526.3 931.7 521.3 936.7 513.0 C943.1 502.3 946.1 486.0 953.0 473.0 C960.3 459.3 971.7 444.4 980.0 433.0 C986.4 424.1 990.7 418.9 998.0 410.0 C1008.6 397.1 1023.9 376.5 1038.0 363.3 C1050.7 351.4 1066.7 340.2 1078.0 333.3 C1085.5 328.7 1091.4 327.1 1097.8 323.6 C1104.0 320.2 1110.1 316.6 1115.6 312.9 C1120.7 309.5 1125.7 305.8 1129.8 302.2 C1133.4 299.1 1136.0 296.3 1139.3 292.7 C1143.1 288.5 1147.0 282.9 1151.1 278.5 C1155.0 274.3 1159.2 271.1 1163.0 266.7 C1167.2 261.8 1170.8 255.5 1174.8 250.1 C1178.7 244.8 1182.8 239.6 1186.7 234.5 C1190.5 229.6 1193.6 225.2 1197.8 220.0 C1203.0 213.6 1209.6 205.9 1215.6 199.0 C1221.5 192.2 1227.3 185.4 1233.3 179.0 C1239.1 172.8 1245.2 167.0 1251.1 161.0 C1257.0 155.0 1262.8 148.6 1268.9 143.1 C1274.7 137.9 1280.5 133.8 1286.7 128.9 C1293.4 123.5 1301.2 116.8 1307.8 112.0 C1313.3 108.0 1318.0 104.4 1323.3 101.6 C1328.3 98.9 1333.5 97.2 1338.7 95.4 C1343.8 93.6 1349.4 92.0 1354.1 90.8 C1357.9 89.8 1360.1 88.8 1364.7 88.3 C1373.0 87.4 1389.7 86.4 1400.0 89.0 C1409.0 91.3 1416.2 95.8 1423.7 101.3 C1432.1 107.5 1439.7 116.5 1447.4 125.0 C1455.5 133.9 1463.8 144.1 1471.1 153.5 C1477.9 162.3 1484.5 170.2 1490.0 179.5 C1495.6 189.1 1500.3 199.9 1504.3 210.3 C1508.2 220.4 1510.5 231.1 1513.7 241.1 C1516.8 250.8 1520.0 260.1 1523.2 269.6 C1526.4 279.1 1529.8 287.5 1532.7 298.0 C1536.2 310.7 1539.1 326.1 1542.2 340.7 C1545.4 356.0 1549.1 373.2 1551.7 388.0 C1554.0 401.1 1555.8 412.9 1557.4 425.0 C1558.9 436.6 1560.0 449.2 1561.1 459.1 C1562.0 466.8 1562.8 471.3 1563.6 479.6 C1564.9 492.6 1566.1 512.8 1567.3 529.4 C1568.6 546.0 1569.8 562.7 1571.1 579.3 C1572.3 595.9 1573.4 612.5 1574.8 629.1 C1576.3 645.7 1578.0 663.5 1579.8 678.9 C1581.4 692.2 1581.7 707.3 1584.8 716.2 C1586.7 721.7 1589.9 724.1 1592.2 728.7 C1594.9 733.9 1597.7 739.3 1599.7 746.1 C1602.3 755.1 1603.1 768.8 1604.7 778.5 C1606.0 786.4 1607.3 790.9 1608.4 800.0 C1610.3 815.3 1611.0 844.6 1613.0 862.0 C1614.4 874.8 1615.8 887.6 1618.0 895.3 C1619.2 899.6 1620.4 901.2 1622.2 904.9 C1624.8 910.4 1628.8 918.4 1632.2 924.8 C1635.4 930.9 1638.8 936.5 1642.1 942.3 C1645.4 948.1 1649.4 952.8 1652.1 959.7 C1655.6 968.6 1657.2 980.9 1659.6 992.1 C1662.2 1004.1 1663.7 1018.4 1667.0 1029.4 C1669.8 1038.7 1673.4 1046.3 1677.0 1054.3 C1680.5 1062.1 1685.1 1077.0 1688.2 1076.8 C1691.3 1076.6 1693.7 1062.4 1695.7 1054.3 C1698.0 1045.1 1698.3 1032.6 1700.6 1024.5 C1702.3 1018.5 1704.4 1009.8 1706.9 1009.5 C1709.1 1009.2 1712.3 1015.7 1714.3 1019.5 C1716.6 1023.8 1716.7 1031.0 1719.3 1034.4 C1721.3 1037.0 1724.7 1040.3 1726.8 1039.4 C1731.6 1037.3 1732.2 1008.1 1734.3 992.1 C1736.4 975.7 1736.4 955.0 1739.3 942.3 C1741.2 934.0 1744.5 929.2 1746.7 922.3 C1749.0 915.1 1751.5 907.2 1753.0 899.9 C1754.4 893.1 1754.5 887.8 1755.4 880.0 C1756.7 868.7 1758.2 852.6 1759.7 838.7 C1761.3 824.4 1761.4 796.1 1764.7 795.3 C1766.4 794.9 1769.6 800.7 1771.3 805.3 C1774.2 813.0 1774.5 827.1 1776.3 838.7 C1778.3 851.4 1780.5 866.8 1783.0 878.7 C1785.1 888.5 1787.4 896.7 1789.7 905.3 C1791.9 913.4 1794.2 920.4 1796.3 928.7 C1798.7 938.0 1800.4 950.0 1803.0 958.7 C1805.0 965.6 1806.4 976.1 1809.7 977.0 C1812.4 977.7 1816.9 973.1 1819.7 968.7 C1824.5 961.2 1826.6 945.2 1829.7 932.0 C1833.3 916.7 1836.8 897.8 1839.7 882.0 C1842.3 867.9 1844.4 856.3 1846.3 842.0 C1848.4 825.5 1849.5 805.5 1851.3 788.7 C1852.9 773.5 1854.5 760.7 1856.3 745.3 C1858.4 727.7 1860.7 704.6 1863.0 688.7 C1864.7 677.1 1865.8 665.9 1868.0 658.7 C1869.3 654.5 1870.8 649.0 1872.4 649.0 C1874.6 649.1 1877.8 660.6 1879.9 668.5 C1882.9 680.0 1883.4 700.7 1886.3 712.0 C1888.2 719.5 1889.7 729.4 1893.0 730.3 C1895.7 731.0 1899.3 724.4 1903.0 722.0 C1907.0 719.4 1912.9 718.3 1916.3 715.3 C1919.4 712.6 1921.1 709.9 1923.0 705.3 C1926.3 697.3 1926.4 680.1 1929.7 670.0 C1932.3 661.8 1936.6 655.7 1939.6 648.6 C1942.4 641.9 1945.1 636.1 1947.1 628.7 C1949.5 619.8 1950.1 608.3 1952.1 598.8 C1953.9 590.1 1955.2 578.8 1958.3 573.9 C1960.0 571.2 1962.5 568.6 1964.5 568.9 C1967.0 569.2 1970.0 574.5 1972.0 578.9 C1974.8 585.1 1975.5 594.6 1977.0 603.8 C1978.9 615.0 1980.3 628.7 1982.0 641.2 C1983.7 653.6 1985.7 667.1 1987.0 678.5 C1988.1 688.2 1988.2 695.5 1989.7 705.3 C1991.6 717.3 1994.7 735.7 1998.0 745.3 C2000.0 751.1 2002.1 758.4 2004.7 758.7 C2007.1 759.0 2010.7 753.2 2013.0 748.7 C2016.3 742.2 2017.8 733.0 2019.7 722.0 C2022.8 704.5 2024.7 674.6 2026.8 653.6 C2028.6 635.7 2029.7 620.4 2031.8 603.8 C2033.9 587.2 2037.2 570.6 2039.3 554.0 C2041.4 537.4 2042.3 518.7 2044.2 504.2 C2045.7 492.9 2047.5 483.8 2049.2 474.3 C2050.8 465.6 2051.7 454.8 2054.2 449.4 C2055.6 446.4 2057.4 443.2 2059.2 443.1 C2061.1 443.0 2063.6 446.6 2065.4 449.4 C2067.9 453.1 2068.6 461.9 2071.6 464.3 C2073.7 465.9 2077.1 466.7 2079.1 465.6 C2081.6 464.3 2082.9 459.0 2084.1 454.4 C2085.8 447.8 2085.8 438.6 2086.6 429.4 C2087.5 418.2 2088.2 405.4 2089.1 392.1 C2090.2 376.7 2091.6 358.9 2092.8 342.3 C2094.0 325.7 2095.3 306.6 2096.5 292.5 C2097.4 282.0 2098.1 273.9 2099.0 265.0 C2099.8 256.7 2099.8 246.8 2101.5 241.0 C2102.6 237.4 2104.6 232.7 2105.7 232.8 C2106.8 232.9 2107.6 237.2 2108.2 241.0 C2109.6 249.5 2109.3 268.2 2109.8 282.7 C2110.4 298.6 2111.0 312.4 2111.5 332.5 C2112.3 363.4 2112.7 409.0 2113.5 450.0 C2114.4 495.1 2115.6 591.9 2116.5 591.9 C2117.3 591.9 2117.8 517.0 2118.5 480.0 C2119.2 443.7 2118.8 372.2 2120.5 372.1 C2121.4 372.1 2122.9 389.9 2124.0 400.0 C2125.4 412.1 2126.3 431.2 2128.0 440.0 C2128.9 444.5 2130.1 450.1 2131.0 450.0 C2132.6 449.9 2133.9 431.3 2135.0 420.0 C2136.4 405.5 2136.8 385.5 2138.0 370.0 C2139.0 356.6 2138.3 333.4 2141.4 332.5 C2143.0 332.0 2146.2 337.1 2148.0 340.8 C2150.6 346.1 2151.1 362.3 2153.0 362.4 C2154.8 362.5 2156.5 350.0 2159.0 345.0 C2161.1 340.8 2163.6 334.8 2166.3 334.1 C2168.3 333.6 2171.3 335.4 2172.9 337.5 C2175.3 340.7 2173.5 351.3 2176.2 354.0 C2178.1 356.0 2182.1 354.1 2184.5 355.7 C2187.3 357.6 2189.2 361.9 2191.2 365.7 C2193.5 370.0 2194.7 374.8 2197.1 380.2 C2200.3 387.3 2205.0 397.9 2209.2 404.4 C2212.4 409.4 2216.6 412.3 2219.3 416.5 C2221.8 420.4 2223.1 424.4 2225.3 428.5 C2227.7 433.1 2230.2 439.7 2233.4 442.7 C2235.8 445.0 2238.7 446.8 2241.5 446.7 C2244.7 446.6 2248.6 443.5 2251.5 440.6 C2254.9 437.1 2257.1 431.4 2260.0 426.5 C2263.1 421.2 2266.9 416.6 2269.7 410.0 C2273.3 401.5 2274.7 388.8 2278.2 379.1 C2281.5 370.0 2286.4 363.1 2290.0 353.6 C2294.4 342.1 2298.0 328.3 2301.7 314.5 C2305.8 299.2 2309.9 281.9 2313.5 265.6 C2317.1 249.3 2320.0 233.0 2323.2 216.7 C2326.5 200.4 2329.8 182.5 2333.0 167.8 C2335.6 155.6 2337.6 143.5 2340.8 134.6 C2343.1 128.2 2346.9 124.1 2348.7 118.9 C2350.3 114.3 2351.1 107.5 2351.6 105.2" fill="none" stroke="#ff00ff" stroke-width="7.5" stroke-linejoin="round" stroke-linecap="round"/>
<path d="M276.0 85.7 C277.0 85.7 279.5 85.6 282.0 85.5 C286.4 85.4 296.5 85.7 300.0 85.0 C301.5 84.7 302.0 84.0 303.0 83.9 C304.1 83.8 305.1 84.6 306.2 84.6 C307.4 84.6 308.7 83.6 310.0 83.7 C311.5 83.8 313.3 85.6 314.7 85.7 C315.9 85.7 316.9 84.7 318.0 84.7 C319.2 84.8 320.4 85.9 321.5 86.0 C322.5 86.2 323.4 85.4 324.6 85.5 C326.0 85.6 327.9 87.1 329.6 87.2 C331.2 87.3 332.9 86.1 334.3 86.2 C335.5 86.4 336.4 87.6 337.6 87.7 C338.9 87.9 340.4 86.9 341.9 87.0 C343.5 87.2 345.3 88.9 346.7 88.9 C347.9 89.0 348.6 87.9 349.7 87.9 C351.1 87.9 352.8 89.5 354.2 89.5 C355.3 89.6 356.3 88.6 357.4 88.6 C358.4 88.7 359.3 89.8 360.4 89.9 C361.8 89.9 363.8 88.3 365.3 88.4 C366.6 88.4 367.6 89.6 368.8 89.6 C370.1 89.6 371.5 88.1 373.0 88.0 C374.5 87.9 376.3 89.2 377.8 89.2 C379.2 89.1 380.3 88.0 381.6 87.9 C382.9 87.7 384.2 88.6 385.4 88.4 C386.7 88.2 387.8 87.0 389.0 86.9 C390.0 86.8 390.8 87.6 391.9 87.6 C393.2 87.5 394.7 86.4 396.2 86.2 C397.5 86.1 399.0 87.0 400.3 86.7 C401.5 86.5 402.7 85.0 403.9 85.0 C405.0 84.9 406.0 86.2 407.1 86.4 C408.2 86.6 409.2 86.0 410.4 86.2 C412.1 86.5 414.2 87.1 415.9 88.5 C418.2 90.3 419.6 94.7 422.1 97.2 C424.6 99.7 428.1 101.4 430.7 103.4 C433.0 105.1 435.0 106.1 436.9 108.3 C439.3 111.1 440.7 116.6 443.1 119.4 C445.0 121.6 447.7 122.1 449.3 124.4 C451.2 127.1 452.0 130.4 453.0 135.0 C454.8 143.2 455.2 157.3 456.7 170.0 C458.5 185.2 460.3 206.0 463.0 220.0 C465.0 230.4 467.6 236.5 470.0 246.7 C473.1 260.0 477.1 276.5 479.5 293.0 C482.3 311.6 483.1 332.5 485.0 353.0 C487.0 374.7 489.4 397.2 491.5 420.0 C493.7 443.8 495.6 469.2 497.7 493.0 C499.7 515.8 502.3 538.1 504.0 560.0 C505.7 581.1 506.6 598.9 508.0 622.0 C509.7 651.4 511.3 688.7 513.3 722.0 C515.3 755.3 517.8 788.7 520.0 822.0 C522.2 855.3 524.4 890.2 526.7 922.0 C528.8 951.0 530.9 979.1 533.3 1005.3 C535.4 1028.8 537.4 1050.4 540.0 1072.0 C542.5 1092.6 546.0 1112.7 548.3 1132.0 C550.4 1149.9 551.4 1168.6 553.3 1184.0 C554.8 1196.4 556.1 1206.2 558.3 1217.3 C560.5 1228.5 563.4 1240.3 566.7 1250.7 C569.7 1260.2 572.7 1268.9 576.7 1277.3 C580.5 1285.5 585.1 1294.3 590.0 1300.7 C594.1 1306.1 598.7 1310.9 603.3 1314.0 C607.1 1316.6 610.9 1319.0 615.0 1319.0 C619.7 1319.0 624.7 1315.5 630.0 1312.3 C637.2 1308.0 644.7 1300.3 653.3 1294.0 C663.3 1286.6 676.3 1276.5 686.7 1270.7 C694.9 1266.1 702.4 1262.4 710.0 1260.7 C716.8 1259.2 723.1 1259.3 730.0 1260.0 C737.5 1260.8 746.2 1263.8 753.3 1265.7 C759.4 1267.3 764.5 1268.8 770.0 1270.7 C775.6 1272.6 782.2 1273.9 786.7 1277.3 C791.0 1280.6 794.0 1285.5 796.7 1290.7 C799.7 1296.5 800.9 1305.6 803.3 1310.7 C804.9 1314.2 806.0 1318.0 808.3 1319.0 C810.5 1320.0 814.1 1316.3 816.7 1317.3 C820.4 1318.7 823.7 1325.1 826.7 1330.7 C830.8 1338.5 833.6 1349.9 836.7 1360.7 C840.3 1373.0 843.4 1387.1 846.7 1400.7 C850.1 1414.8 853.5 1429.0 856.7 1444.0 C860.2 1460.0 863.8 1478.6 866.7 1494.0 C869.2 1507.2 869.0 1521.3 873.3 1530.7 C876.6 1537.8 882.2 1543.6 886.7 1547.3 C890.0 1549.9 893.9 1552.9 896.7 1552.3 C899.4 1551.7 901.1 1547.7 903.3 1544.0 C906.7 1538.4 909.9 1527.5 913.3 1520.7 C916.1 1515.1 918.6 1506.7 921.7 1505.7 C923.8 1505.1 926.3 1507.1 928.3 1509.0 C931.0 1511.5 932.5 1520.4 935.0 1520.7 C937.1 1521.0 939.9 1517.4 941.7 1514.0 C944.9 1507.8 945.1 1496.0 946.7 1484.0 C949.1 1466.2 951.1 1439.5 953.3 1417.3 C955.5 1395.1 957.8 1372.9 960.0 1350.7 C962.2 1328.5 964.5 1306.2 966.7 1284.0 C968.9 1261.8 971.4 1235.7 973.3 1217.3 C974.6 1204.3 975.0 1196.8 976.7 1184.0 C979.0 1166.5 982.9 1141.2 986.7 1122.0 C990.1 1105.2 993.8 1090.3 998.0 1075.0 C1002.0 1060.3 1007.1 1045.0 1011.3 1032.0 C1014.8 1021.1 1017.3 1009.1 1021.3 1002.0 C1023.8 997.5 1026.7 992.0 1029.7 992.0 C1033.2 992.0 1037.7 999.5 1041.3 1005.3 C1046.4 1013.6 1049.5 1037.9 1054.7 1038.7 C1058.7 1039.3 1064.1 1029.2 1068.0 1022.0 C1073.5 1011.9 1077.3 994.8 1081.3 982.0 C1085.0 970.4 1088.0 960.1 1091.3 948.7 C1094.7 936.8 1097.9 923.9 1101.3 912.0 C1104.6 900.6 1107.1 887.0 1111.3 878.7 C1114.2 872.9 1118.6 870.7 1121.3 865.3 C1124.5 858.8 1126.0 850.9 1128.0 842.0 C1130.6 830.5 1132.6 816.3 1134.7 802.0 C1137.1 785.5 1139.0 765.9 1141.3 748.7 C1143.5 732.6 1145.8 717.6 1148.0 702.0 C1150.2 686.4 1152.5 669.5 1154.7 655.3 C1156.5 643.3 1158.0 636.0 1160.0 622.0 C1163.4 598.4 1168.0 557.4 1172.5 526.7 C1176.7 497.9 1181.1 462.4 1186.0 443.3 C1188.6 433.0 1191.9 429.0 1194.2 420.0 C1197.3 408.1 1198.8 391.3 1201.3 377.8 C1203.6 365.4 1205.2 353.1 1208.4 342.2 C1211.3 332.5 1216.3 323.6 1219.1 315.6 C1221.4 309.1 1223.2 304.2 1224.4 297.8 C1225.7 290.7 1224.5 281.6 1226.2 274.7 C1227.7 268.7 1231.2 264.2 1233.3 258.7 C1235.4 253.0 1237.0 247.3 1238.7 240.9 C1240.6 233.7 1241.9 225.3 1244.0 217.8 C1246.0 210.5 1248.8 203.7 1251.1 196.4 C1253.5 188.9 1255.5 180.8 1258.2 173.3 C1260.8 166.0 1264.0 159.5 1267.1 152.0 C1270.5 143.6 1273.6 132.2 1277.8 125.3 C1280.9 120.2 1284.2 117.9 1288.0 113.3 C1292.9 107.2 1297.5 96.2 1304.7 91.7 C1311.9 87.2 1321.9 87.1 1331.3 86.0 C1341.7 84.7 1353.6 84.6 1364.7 85.0 C1375.8 85.4 1387.0 86.1 1398.0 88.3 C1409.2 90.5 1421.2 93.4 1431.3 98.3 C1441.1 103.0 1450.0 108.8 1458.0 116.7 C1466.9 125.6 1473.9 139.1 1481.3 150.0 C1488.3 160.2 1495.9 168.9 1501.3 180.0 C1507.2 192.0 1511.0 205.4 1514.7 220.0 C1519.0 237.1 1521.5 257.0 1524.7 276.7 C1528.2 298.0 1531.9 319.6 1534.7 343.3 C1537.9 370.2 1540.0 404.9 1542.4 429.8 C1544.2 448.7 1546.0 462.1 1547.4 479.6 C1549.0 499.2 1549.9 521.1 1551.1 541.9 C1552.4 562.7 1553.8 584.6 1554.9 604.2 C1555.9 621.7 1556.6 635.7 1557.4 654.0 C1558.3 676.4 1559.1 704.1 1559.9 728.7 C1560.7 752.7 1561.5 775.5 1562.3 800.0 C1563.2 825.9 1564.1 851.9 1564.9 880.0 C1565.8 911.4 1566.6 946.4 1567.4 979.6 C1568.2 1012.8 1569.2 1048.9 1569.9 1079.3 C1570.5 1104.9 1570.9 1128.0 1571.3 1150.0 C1571.7 1169.2 1572.1 1182.6 1572.4 1203.8 C1572.9 1234.7 1572.7 1284.5 1573.5 1317.3 C1574.2 1342.5 1575.3 1361.8 1576.3 1384.0 C1577.3 1406.2 1578.1 1430.1 1579.7 1450.7 C1581.0 1468.6 1582.0 1487.9 1584.7 1500.7 C1586.5 1509.0 1588.7 1515.3 1591.3 1520.7 C1593.3 1524.8 1595.7 1527.0 1598.0 1530.7 C1600.7 1535.1 1604.0 1545.8 1606.3 1545.7 C1608.3 1545.6 1610.0 1539.4 1611.3 1534.0 C1613.9 1523.3 1613.7 1501.9 1614.7 1484.0 C1615.9 1463.4 1617.2 1439.5 1618.0 1417.3 C1618.8 1395.1 1618.9 1374.1 1619.7 1350.7 C1620.6 1324.5 1622.1 1289.8 1623.0 1267.3 C1623.6 1252.0 1624.1 1243.7 1624.7 1228.7 C1625.5 1207.9 1626.0 1176.4 1627.2 1154.0 C1628.2 1135.7 1629.6 1117.1 1630.9 1104.2 C1631.7 1096.0 1631.3 1084.9 1633.4 1084.2 C1634.6 1083.8 1637.1 1089.6 1638.4 1089.2 C1640.8 1088.4 1641.1 1076.2 1642.1 1066.8 C1643.7 1051.3 1643.8 1026.2 1644.6 1004.5 C1645.5 980.7 1646.2 952.2 1647.1 929.8 C1647.9 911.5 1648.8 900.8 1649.6 880.0 C1650.9 845.3 1652.0 778.2 1653.2 741.1 C1654.0 716.3 1654.9 700.6 1655.7 678.9 C1656.6 655.1 1657.4 629.1 1658.2 604.2 C1659.0 579.3 1659.9 554.3 1660.7 529.4 C1661.5 504.5 1662.5 482.5 1663.2 454.7 C1664.1 419.6 1664.2 368.0 1665.3 335.5 C1666.0 313.1 1667.0 295.6 1668.1 278.6 C1669.0 264.7 1669.8 251.2 1671.0 240.7 C1671.8 233.3 1672.4 228.0 1673.8 221.7 C1675.2 215.3 1677.8 209.8 1679.5 202.8 C1681.6 194.3 1683.9 182.9 1685.2 174.3 C1686.2 167.4 1686.4 160.8 1687.1 155.3 C1687.7 151.0 1687.5 146.1 1689.0 144.0 C1689.9 142.7 1691.5 143.0 1692.8 142.1 C1694.6 140.9 1696.7 137.1 1698.4 137.3 C1700.5 137.6 1702.8 142.3 1704.1 145.9 C1705.9 150.8 1705.3 157.1 1706.0 164.8 C1707.1 177.0 1708.3 198.4 1709.8 212.2 C1710.9 222.9 1712.7 230.5 1713.6 240.7 C1714.7 252.4 1714.9 264.7 1715.5 278.6 C1716.2 295.6 1716.9 317.7 1717.4 335.5 C1717.9 351.2 1717.9 363.3 1718.5 380.0 C1719.2 401.7 1720.7 429.8 1721.7 454.7 C1722.6 479.6 1723.6 504.5 1724.2 529.4 C1724.8 554.3 1725.1 579.3 1725.5 604.2 C1725.9 629.1 1726.3 651.0 1726.7 678.9 C1727.2 714.4 1727.6 761.6 1728.0 800.0 C1728.4 834.9 1728.6 866.3 1729.0 900.0 C1729.4 934.5 1730.0 968.1 1730.5 1004.5 C1731.0 1044.2 1731.5 1088.6 1732.0 1129.0 C1732.5 1167.3 1733.0 1205.8 1733.5 1241.0 C1734.0 1272.4 1733.5 1305.5 1735.0 1330.0 C1736.1 1347.3 1738.0 1374.0 1739.7 1374.0 C1741.3 1374.0 1742.9 1346.8 1744.7 1334.0 C1746.4 1322.2 1748.7 1312.5 1750.0 1300.0 C1751.6 1285.0 1752.1 1269.1 1753.0 1250.0 C1754.3 1224.4 1755.0 1184.0 1756.5 1160.0 C1757.5 1144.0 1758.8 1131.5 1760.0 1120.0 C1761.0 1111.2 1762.0 1096.7 1763.0 1096.7 C1764.2 1096.7 1765.7 1117.8 1766.7 1129.0 C1767.8 1141.0 1765.7 1165.1 1769.1 1166.4 C1770.9 1167.1 1774.7 1158.3 1776.6 1159.0 C1780.5 1160.4 1779.3 1186.0 1780.3 1203.8 C1781.7 1229.8 1781.6 1274.4 1783.0 1300.0 C1783.9 1317.0 1785.3 1342.3 1786.3 1342.3 C1787.5 1342.3 1788.3 1299.7 1789.7 1284.0 C1790.7 1273.4 1791.2 1264.6 1793.0 1257.3 C1794.3 1252.0 1796.7 1249.8 1798.0 1244.0 C1800.3 1233.8 1800.3 1217.0 1801.3 1200.7 C1802.6 1179.7 1800.7 1144.0 1804.7 1128.7 C1806.7 1120.9 1810.6 1111.8 1813.0 1112.0 C1815.6 1112.2 1817.8 1122.7 1819.7 1132.0 C1823.6 1151.4 1824.0 1194.7 1826.3 1224.0 C1828.4 1250.7 1831.2 1277.8 1833.0 1300.7 C1834.4 1319.1 1834.6 1334.1 1836.3 1350.7 C1838.0 1367.4 1840.7 1384.3 1843.0 1400.7 C1845.2 1416.5 1846.1 1433.9 1849.7 1447.3 C1852.6 1458.1 1857.3 1475.6 1861.3 1475.7 C1865.1 1475.8 1870.1 1460.7 1873.0 1450.7 C1877.0 1437.1 1877.8 1417.9 1879.7 1400.7 C1881.7 1382.4 1881.6 1355.0 1884.7 1344.0 C1886.1 1339.1 1888.1 1333.8 1889.7 1334.0 C1892.2 1334.3 1894.2 1352.4 1896.3 1360.7 C1898.1 1367.8 1898.1 1379.7 1901.3 1380.7 C1904.1 1381.6 1910.0 1369.8 1913.0 1370.7 C1916.8 1371.9 1917.7 1395.8 1919.7 1395.7 C1922.3 1395.5 1924.6 1366.1 1926.3 1350.7 C1928.0 1334.5 1928.4 1318.2 1929.7 1300.7 C1931.2 1281.2 1931.8 1239.3 1934.7 1239.0 C1936.8 1238.8 1940.6 1270.7 1943.0 1270.7 C1944.9 1270.7 1946.5 1258.4 1948.0 1250.7 C1950.0 1240.4 1950.9 1214.1 1953.0 1214.0 C1954.9 1213.9 1957.3 1234.7 1959.7 1244.0 C1961.8 1252.3 1962.8 1262.7 1966.3 1267.3 C1968.6 1270.2 1972.5 1269.0 1974.7 1272.3 C1979.5 1279.5 1977.8 1306.1 1981.3 1317.3 C1983.6 1324.4 1987.2 1334.3 1989.7 1334.0 C1993.1 1333.6 1995.6 1310.4 1998.0 1300.7 C1999.9 1293.2 2000.7 1281.2 2003.0 1280.7 C2004.4 1280.4 2006.7 1287.7 2008.0 1287.3 C2010.7 1286.5 2010.4 1264.7 2011.3 1250.7 C2012.5 1231.8 2013.1 1204.1 2014.0 1184.0 C2014.8 1167.4 2014.8 1153.6 2016.3 1138.7 C2017.8 1124.0 2020.8 1110.0 2023.0 1095.3 C2025.3 1080.0 2027.4 1048.7 2029.7 1048.7 C2032.3 1048.7 2035.1 1108.7 2038.0 1108.7 C2040.7 1108.7 2043.4 1055.5 2046.3 1055.3 C2047.9 1055.2 2049.9 1072.1 2051.3 1072.0 C2054.0 1071.7 2053.8 1026.1 2056.3 1008.7 C2058.1 996.3 2061.1 976.9 2063.0 977.0 C2066.0 977.2 2066.8 1062.0 2069.0 1062.0 C2070.8 1062.0 2073.2 1026.0 2074.7 1005.3 C2076.5 980.2 2076.9 951.0 2078.0 922.0 C2079.2 890.2 2080.1 854.2 2081.3 822.0 C2082.4 792.0 2083.5 764.5 2085.0 735.0 C2086.5 704.6 2088.8 672.1 2090.2 642.3 C2091.5 614.5 2092.1 584.5 2093.3 561.6 C2094.2 544.6 2094.5 517.5 2096.3 517.3 C2097.4 517.2 2099.3 525.2 2100.3 531.4 C2102.1 542.9 2101.6 564.2 2102.3 581.8 C2103.0 601.0 2102.7 642.2 2104.4 642.3 C2105.4 642.4 2107.3 631.1 2108.4 622.1 C2110.6 604.2 2111.1 569.9 2112.4 541.5 C2113.8 509.8 2114.6 465.3 2116.5 440.6 C2117.6 426.2 2119.0 406.4 2120.5 406.4 C2121.7 406.4 2123.4 420.6 2124.5 430.6 C2126.3 446.5 2127.1 493.1 2128.5 493.1 C2129.8 493.1 2131.5 460.0 2132.6 440.6 C2134.0 416.6 2134.7 386.6 2135.6 360.0 C2136.5 334.0 2136.8 304.5 2138.0 282.7 C2138.9 266.7 2140.1 253.1 2141.4 241.0 C2142.4 231.7 2143.2 222.5 2144.7 216.2 C2145.6 212.1 2146.9 206.3 2148.0 206.3 C2149.1 206.3 2150.3 212.3 2151.3 216.2 C2152.7 221.7 2153.4 229.4 2154.7 236.2 C2156.1 243.3 2158.5 249.4 2159.6 257.8 C2161.1 269.3 2160.7 285.5 2161.3 299.3 C2161.9 313.1 2162.5 326.2 2163.0 340.8 C2163.6 357.3 2164.1 371.8 2164.7 393.3 C2165.7 427.6 2166.6 492.7 2168.0 526.7 C2168.9 547.8 2170.0 578.0 2171.0 578.0 C2172.0 578.0 2173.0 541.9 2173.9 521.3 C2175.0 496.8 2176.0 467.5 2176.9 440.6 C2177.7 413.7 2178.0 379.8 2179.0 360.0 C2179.6 348.4 2180.6 343.7 2181.2 332.5 C2182.1 315.2 2182.2 288.2 2182.9 266.0 C2183.6 243.9 2183.9 215.6 2185.4 199.6 C2186.3 190.4 2187.2 178.1 2188.7 178.0 C2189.8 177.9 2191.8 184.5 2192.8 189.7 C2194.8 199.5 2194.6 217.9 2195.3 232.8 C2196.0 248.8 2196.4 266.8 2197.0 282.7 C2197.5 297.2 2198.1 309.3 2198.7 324.2 C2199.4 341.4 2200.5 356.6 2201.1 380.0 C2202.2 419.9 2201.9 506.9 2203.1 541.5 C2203.7 557.9 2204.3 577.7 2205.2 577.7 C2206.3 577.7 2208.0 542.8 2209.2 521.3 C2210.8 492.6 2211.8 446.6 2213.2 420.5 C2214.1 404.0 2215.1 394.0 2216.1 380.0 C2217.2 364.8 2218.3 348.5 2219.4 332.5 C2220.5 316.1 2221.2 295.5 2222.7 282.7 C2223.7 274.5 2224.2 265.1 2226.1 262.7 C2226.8 261.8 2227.7 261.3 2228.4 261.7 C2230.9 263.1 2230.5 294.9 2232.3 295.0 C2233.9 295.1 2236.4 271.4 2238.1 271.5 C2240.1 271.6 2239.8 298.4 2243.0 304.7 C2244.6 307.8 2247.4 307.4 2248.9 310.6 C2252.0 316.9 2251.5 333.2 2252.8 343.9 C2254.1 354.0 2255.5 363.2 2256.7 373.2 C2257.9 383.6 2258.1 395.7 2260.0 405.0 C2261.6 412.5 2264.2 418.2 2266.3 425.0 C2268.5 432.1 2271.0 446.8 2273.0 446.7 C2274.9 446.6 2276.5 432.5 2278.0 425.0 C2279.6 417.0 2281.0 410.6 2282.2 400.0 C2284.2 381.6 2284.7 347.9 2286.1 324.3 C2287.3 303.5 2288.4 281.8 2290.0 265.6 C2291.1 254.1 2292.5 245.5 2293.9 236.3 C2295.1 228.0 2295.2 217.8 2297.8 212.8 C2299.3 209.8 2301.7 208.2 2303.7 206.9 C2305.3 205.9 2307.4 206.5 2308.6 205.0 C2310.9 202.2 2310.4 193.4 2311.5 187.4 C2312.7 181.0 2313.3 171.7 2315.4 167.8 C2316.5 165.8 2318.2 163.7 2319.3 163.9 C2320.9 164.2 2322.0 173.8 2323.2 173.7 C2324.8 173.6 2326.2 161.1 2327.2 154.1 C2328.3 146.2 2328.5 137.5 2329.1 128.7 C2329.8 119.3 2329.5 105.2 2331.1 99.3 C2331.9 96.5 2333.2 93.4 2334.0 93.5 C2335.3 93.7 2335.6 104.6 2336.9 109.1 C2338.0 112.8 2339.5 118.9 2340.8 118.9 C2342.1 118.9 2343.6 112.8 2344.8 109.1 C2346.3 104.5 2347.5 98.5 2348.7 93.5 C2349.8 88.8 2351.1 82.1 2351.6 79.8" fill="none" stroke="#008000" stroke-width="7.5" stroke-linejoin="round" stroke-linecap="round"/>
<path d="M276.0 80.2 C285.0 80.2 312.3 80.1 330.0 80.2 C347.0 80.3 365.5 80.2 380.0 80.5 C391.3 80.7 403.9 80.4 410.0 81.5 C412.8 82.0 413.6 82.7 416.0 83.6 C419.8 85.0 426.0 88.7 430.7 89.0 C435.0 89.3 439.6 85.7 443.1 86.1 C446.0 86.4 447.9 88.0 450.5 89.8 C454.0 92.2 457.5 97.7 461.6 99.7 C465.4 101.6 470.2 102.3 474.0 102.1 C477.3 102.0 479.5 100.0 483.0 99.5 C487.5 98.9 493.8 99.2 498.7 99.7 C503.1 100.2 507.0 100.9 511.1 102.1 C515.3 103.3 519.2 105.5 523.4 107.1 C527.7 108.7 531.7 109.8 536.7 111.7 C543.4 114.3 551.5 118.2 560.0 121.7 C570.0 125.9 581.1 131.4 593.0 135.0 C606.4 139.0 623.1 142.4 636.7 144.0 C648.5 145.4 660.0 145.7 670.0 145.0 C678.4 144.4 685.1 143.0 693.0 141.0 C701.7 138.8 710.5 134.6 720.0 131.7 C730.4 128.5 742.0 126.0 753.0 123.0 C764.2 119.9 775.1 115.4 786.7 113.3 C798.5 111.2 814.2 107.9 823.0 110.7 C829.1 112.6 832.7 116.4 836.7 121.7 C842.3 129.0 846.7 141.9 850.0 153.0 C853.5 164.6 853.6 177.3 856.7 190.0 C860.1 203.9 866.6 218.8 870.0 233.0 C873.2 246.5 872.7 263.5 876.7 273.0 C879.3 279.2 883.2 282.6 886.7 286.7 C889.9 290.4 893.9 297.0 896.7 296.7 C899.3 296.4 901.1 291.6 903.0 286.7 C907.0 276.6 908.2 248.2 913.0 236.7 C915.8 229.9 919.3 222.9 923.0 221.7 C925.7 220.8 929.2 225.9 931.7 225.0 C935.1 223.7 937.6 217.1 940.0 210.0 C944.8 196.0 945.2 159.2 950.0 143.3 C952.8 133.9 954.9 127.0 960.0 121.7 C965.0 116.6 973.4 114.6 980.0 111.7 C986.1 109.1 991.0 106.9 998.0 105.0 C1007.3 102.5 1019.9 100.7 1031.0 99.0 C1042.1 97.3 1051.6 96.3 1064.7 95.0 C1083.1 93.1 1108.1 90.8 1131.3 89.3 C1156.7 87.7 1194.6 84.7 1211.3 86.0 C1219.0 86.6 1222.2 89.1 1228.0 89.3 C1234.4 89.5 1239.8 87.3 1248.0 86.7 C1260.9 85.8 1280.1 86.4 1298.0 86.0 C1318.6 85.5 1340.2 84.5 1364.7 84.0 C1394.7 83.4 1432.9 83.0 1464.7 82.7 C1493.7 82.4 1532.7 82.3 1548.0 82.0 C1553.8 81.9 1556.5 80.9 1560.0 81.6 C1562.9 82.2 1565.7 82.7 1567.6 85.2 C1570.7 89.3 1570.5 99.3 1571.4 107.9 C1572.6 118.9 1572.7 132.0 1573.3 145.9 C1574.0 163.0 1574.6 183.8 1575.2 202.8 C1575.8 221.7 1576.5 240.7 1577.1 259.6 C1577.7 278.6 1578.3 296.3 1579.0 316.5 C1579.8 339.4 1580.9 366.3 1581.5 390.0 C1582.1 412.3 1582.0 432.4 1582.5 454.7 C1583.1 478.7 1583.0 512.5 1584.8 529.4 C1585.7 538.2 1587.0 549.3 1588.5 549.4 C1589.6 549.5 1591.3 544.2 1592.2 539.4 C1594.4 527.9 1592.8 498.6 1593.5 479.6 C1594.1 462.2 1595.2 445.5 1596.0 429.8 C1596.7 415.8 1597.4 405.3 1597.9 390.0 C1598.5 369.2 1598.2 339.4 1598.9 316.5 C1599.5 296.3 1600.3 275.3 1601.7 259.6 C1602.7 248.5 1604.0 240.3 1605.5 231.2 C1606.9 222.7 1608.5 213.7 1610.3 206.5 C1611.7 200.8 1612.9 195.4 1615.0 191.4 C1616.6 188.3 1618.2 185.2 1620.7 183.8 C1623.2 182.4 1627.5 183.6 1630.2 182.8 C1632.4 182.2 1634.2 181.4 1635.9 180.0 C1638.0 178.2 1639.4 175.2 1641.6 172.4 C1644.3 169.0 1647.5 163.7 1651.0 161.0 C1653.9 158.7 1657.2 156.9 1660.5 156.3 C1663.6 155.7 1667.2 155.9 1670.0 157.2 C1673.0 158.6 1675.2 161.9 1677.6 164.8 C1680.3 168.1 1682.4 173.1 1685.2 176.2 C1687.6 178.9 1690.1 181.8 1692.8 182.8 C1695.2 183.7 1698.3 184.0 1700.3 182.8 C1702.6 181.5 1703.7 177.8 1705.1 174.3 C1707.1 169.3 1708.0 161.4 1709.8 155.3 C1711.5 149.4 1712.9 139.2 1715.5 138.3 C1717.1 137.7 1719.7 139.9 1721.2 142.1 C1723.7 145.8 1723.8 154.1 1725.0 161.0 C1726.4 169.1 1727.3 178.5 1728.8 187.6 C1730.4 197.4 1732.5 208.1 1734.5 217.9 C1736.3 227.1 1738.5 236.2 1740.2 244.5 C1741.7 251.8 1742.8 258.4 1744.0 265.3 C1745.3 272.3 1745.0 284.0 1747.7 286.2 C1749.0 287.3 1751.3 287.2 1752.5 286.2 C1754.8 284.2 1754.3 275.5 1755.3 269.1 C1756.5 260.8 1757.9 250.9 1759.1 240.7 C1760.5 229.0 1761.6 213.3 1762.9 202.8 C1763.8 195.4 1764.5 189.5 1765.8 183.8 C1766.9 178.9 1768.1 170.6 1769.6 170.5 C1771.0 170.4 1773.0 176.0 1774.3 180.0 C1776.4 186.3 1777.1 198.2 1779.0 205.0 C1780.3 209.8 1781.4 216.7 1783.5 217.0 C1785.9 217.3 1790.3 209.0 1793.0 203.3 C1796.7 195.5 1797.2 181.8 1801.3 173.3 C1804.8 166.1 1809.6 155.4 1814.7 155.0 C1820.1 154.6 1828.8 166.0 1833.0 173.3 C1837.3 180.9 1837.4 189.5 1839.7 200.0 C1842.9 214.7 1847.5 238.5 1849.7 253.3 C1851.2 263.7 1851.0 270.4 1852.5 280.0 C1854.2 291.5 1857.6 303.7 1859.9 317.4 C1862.7 333.9 1864.4 372.0 1867.4 372.2 C1869.6 372.3 1872.7 353.2 1874.9 342.3 C1877.4 329.5 1878.5 308.1 1881.1 299.9 C1882.2 296.3 1883.5 292.4 1884.8 292.5 C1886.4 292.6 1888.4 299.5 1889.8 304.9 C1892.2 313.9 1893.2 329.4 1894.8 342.3 C1896.5 356.0 1897.9 370.7 1899.8 384.6 C1901.6 398.1 1903.7 414.0 1906.0 424.5 C1907.6 431.5 1909.7 435.1 1911.0 441.9 C1912.8 451.0 1913.2 463.7 1914.7 474.3 C1916.1 484.5 1918.0 494.2 1919.7 504.2 C1921.4 514.1 1922.9 534.0 1924.7 534.0 C1926.3 534.0 1928.2 520.4 1929.7 511.6 C1931.7 499.3 1932.9 481.0 1934.6 466.8 C1936.2 453.8 1937.7 440.6 1939.6 429.4 C1941.1 420.2 1942.8 413.2 1944.6 404.5 C1946.5 395.0 1948.1 382.3 1950.8 374.6 C1952.6 369.4 1954.4 365.9 1957.1 362.2 C1959.8 358.5 1964.2 356.3 1967.0 352.2 C1970.2 347.4 1972.4 341.5 1974.5 334.8 C1977.2 326.3 1978.8 314.4 1980.7 304.9 C1982.5 296.2 1984.5 287.9 1985.7 280.0 C1986.8 273.0 1987.1 267.8 1988.0 260.0 C1989.3 249.0 1990.1 229.6 1993.0 220.0 C1994.8 214.2 1997.6 206.5 1999.7 206.7 C2002.6 206.9 2005.2 225.5 2008.0 233.3 C2010.2 239.6 2012.2 249.9 2014.7 250.0 C2017.2 250.1 2020.4 240.2 2023.0 233.3 C2026.8 223.0 2029.8 206.0 2033.0 193.3 C2035.9 181.7 2038.1 169.6 2041.3 160.0 C2043.8 152.4 2045.6 142.7 2049.7 140.0 C2052.5 138.1 2057.1 141.4 2060.0 139.9 C2063.5 138.1 2065.6 132.3 2068.3 128.2 C2071.1 124.0 2073.2 116.6 2076.6 115.0 C2079.1 113.8 2082.6 113.9 2084.9 115.8 C2089.1 119.2 2089.3 138.7 2093.2 141.5 C2095.1 142.9 2098.0 142.9 2099.9 141.5 C2103.4 138.8 2104.2 122.8 2106.5 118.3 C2107.6 116.2 2108.4 114.3 2109.8 114.1 C2111.5 113.8 2114.2 118.4 2116.5 118.3 C2119.1 118.2 2122.2 112.6 2124.8 112.5 C2127.1 112.4 2129.6 114.1 2131.4 116.6 C2134.8 121.1 2136.0 133.5 2138.0 141.5 C2139.8 148.9 2141.3 156.2 2143.0 163.1 C2144.6 169.5 2146.3 181.4 2148.0 181.4 C2149.6 181.4 2151.5 172.3 2153.0 166.4 C2155.0 158.2 2156.6 146.2 2158.0 136.5 C2159.3 127.4 2159.9 116.9 2161.3 110.0 C2162.3 105.5 2162.9 101.8 2164.6 99.0 C2165.9 96.8 2168.1 93.6 2169.7 94.0 C2172.8 94.7 2174.7 116.9 2178.0 118.3 C2179.5 119.0 2181.7 117.5 2183.0 116.0 C2185.0 113.6 2185.0 107.5 2186.3 103.3 C2187.7 98.9 2188.6 91.2 2191.3 90.0 C2193.5 89.0 2197.4 91.6 2200.0 93.5 C2203.0 95.7 2204.7 100.4 2207.8 103.3 C2211.1 106.3 2215.0 109.2 2219.6 111.1 C2225.1 113.4 2234.1 113.3 2239.1 115.0 C2242.4 116.1 2243.8 117.4 2247.0 118.9 C2251.7 121.1 2259.0 125.5 2264.6 126.7 C2269.3 127.7 2273.9 125.3 2278.2 126.7 C2283.0 128.2 2288.1 133.0 2291.9 136.5 C2295.1 139.6 2296.6 145.2 2299.8 146.3 C2302.6 147.3 2306.8 146.3 2309.5 144.3 C2312.9 141.8 2313.8 133.5 2317.4 130.6 C2320.6 128.0 2325.7 126.1 2329.1 126.7 C2332.1 127.2 2334.2 132.5 2336.9 132.6 C2339.5 132.7 2342.2 128.5 2344.8 127.7 C2347.1 127.1 2350.5 127.7 2351.6 127.7" fill="none" stroke="#000080" stroke-width="7.5" stroke-linejoin="round" stroke-linecap="round"/>
</g>
<rect x="278.5" y="79.2" width="2073.8" height="1489.6" fill="none" stroke="#000" stroke-width="4"/>
<path d="M278.5 1568.8 V1595.8 M422.5 1568.8 V1583.8 M566.5 1568.8 V1595.8 M710.6 1568.8 V1583.8 M854.6 1568.8 V1595.8 M998.6 1568.8 V1583.8 M1142.6 1568.8 V1595.8 M1286.7 1568.8 V1583.8 M1430.7 1568.8 V1595.8 M1574.7 1568.8 V1583.8 M1718.7 1568.8 V1595.8 M1862.8 1568.8 V1583.8 M2006.8 1568.8 V1595.8 M2150.8 1568.8 V1583.8 M2294.8 1568.8 V1595.8 M278.5 1568.8 H251.5 M278.5 1419.8 H263.5 M278.5 1270.9 H251.5 M278.5 1121.9 H263.5 M278.5 973.0 H251.5 M278.5 824.0 H263.5 M278.5 675.0 H251.5 M278.5 526.1 H263.5 M278.5 377.1 H251.5 M278.5 228.2 H263.5 M278.5 79.2 H251.5" stroke="#000" stroke-width="4" fill="none"/>
<text x="277.0" y="1652.5" font-family="Liberation Sans, Arial, sans-serif" stroke="#000" stroke-width="0.7" font-size="52.5" text-anchor="middle">4000</text>
<text x="565.0" y="1652.5" font-family="Liberation Sans, Arial, sans-serif" stroke="#000" stroke-width="0.7" font-size="52.5" text-anchor="middle">3500</text>
<text x="853.1" y="1652.5" font-family="Liberation Sans, Arial, sans-serif" stroke="#000" stroke-width="0.7" font-size="52.5" text-anchor="middle">3000</text>
<text x="1141.1" y="1652.5" font-family="Liberation Sans, Arial, sans-serif" stroke="#000" stroke-width="0.7" font-size="52.5" text-anchor="middle">2500</text>
<text x="1429.2" y="1652.5" font-family="Liberation Sans, Arial, sans-serif" stroke="#000" stroke-width="0.7" font-size="52.5" text-anchor="middle">2000</text>
<text x="1717.2" y="1652.5" font-family="Liberation Sans, Arial, sans-serif" stroke="#000" stroke-width="0.7" font-size="52.5" text-anchor="middle">1500</text>
<text x="2005.3" y="1652.5" font-family="Liberation Sans, Arial, sans-serif" stroke="#000" stroke-width="0.7" font-size="52.5" text-anchor="middle">1000</text>
<text x="2293.3" y="1652.5" font-family="Liberation Sans, Arial, sans-serif" stroke="#000" stroke-width="0.7" font-size="52.5" text-anchor="middle">500</text>
<text x="233.8" y="1581.4" font-family="Liberation Sans, Arial, sans-serif" stroke="#000" stroke-width="0.7" font-size="52.5" text-anchor="end">0</text>
<text x="233.8" y="1283.5" font-family="Liberation Sans, Arial, sans-serif" stroke="#000" stroke-width="0.7" font-size="52.5" text-anchor="end">20</text>
<text x="233.8" y="985.6" font-family="Liberation Sans, Arial, sans-serif" stroke="#000" stroke-width="0.7" font-size="52.5" text-anchor="end">40</text>
<text x="233.8" y="687.6" font-family="Liberation Sans, Arial, sans-serif" stroke="#000" stroke-width="0.7" font-size="52.5" text-anchor="end">60</text>
<text x="233.8" y="389.7" font-family="Liberation Sans, Arial, sans-serif" stroke="#000" stroke-width="0.7" font-size="52.5" text-anchor="end">80</text>
<text x="233.8" y="91.8" font-family="Liberation Sans, Arial, sans-serif" stroke="#000" stroke-width="0.7" font-size="52.5" text-anchor="end">100</text>
<text transform="translate(107.8,1174) rotate(-90)" font-family="Liberation Sans, Arial, sans-serif" stroke="#000" stroke-width="0.7" font-size="87.5" textLength="667.8" lengthAdjust="spacingAndGlyphs">Transmittance (%)</text>
<text x="925.5" y="1807.2" font-family="Liberation Sans, Arial, sans-serif" stroke="#000" stroke-width="0.7" font-size="81.5" textLength="485.3" lengthAdjust="spacingAndGlyphs">Wavenumber</text>
<text transform="translate(1443.7,1798.1) scale(1.26,1)" font-family="Noto Serif CJK SC, serif" font-size="75" stroke="#000" stroke-width="0.5">(</text>
<text x="1478.5" y="1807.2" font-family="Liberation Sans, Arial, sans-serif" stroke="#000" stroke-width="0.7" font-size="81.5" textLength="108.6" lengthAdjust="spacingAndGlyphs">cm</text>
<text x="1587" y="1767.5" font-family="Liberation Sans, Arial, sans-serif" stroke="#000" stroke-width="0.7" font-size="78">-</text>
<text x="1619" y="1770.5" font-family="NanumGothic, sans-serif" stroke="#000" stroke-width="0.7" font-size="76">1</text>
<text transform="translate(1660.7,1798.1) scale(1.26,1)" font-family="Noto Serif CJK SC, serif" font-size="75" stroke="#000" stroke-width="0.5">)</text>
<path d="M1048.3 1097.8 H1192.1" stroke="#000000" stroke-width="7.8" stroke-linecap="round"/>
<text x="1217.5" y="1111.8" font-family="Liberation Sans, Arial, sans-serif" stroke="#000" stroke-width="0.7" font-size="65">400rpm</text>
<path d="M1048.3 1176.7 H1192.1" stroke="#ff0000" stroke-width="7.8" stroke-linecap="round"/>
<text x="1216.5" y="1185.6" font-family="Liberation Sans, Arial, sans-serif" stroke="#000" stroke-width="0.7" font-size="65">600rpm</text>
<path d="M1048.3 1255.9 H1192.1" stroke="#0000ff" stroke-width="7.8" stroke-linecap="round"/>
<text x="1212.0" y="1261" font-family="Liberation Sans, Arial, sans-serif" stroke="#000" stroke-width="0.7" font-size="65">800rpm</text>
<path d="M1048.3 1333.9 H1192.1" stroke="#ff00ff" stroke-width="7.8" stroke-linecap="round"/>
<text x="1216.0" y="1344" font-family="Liberation Sans, Arial, sans-serif" stroke="#000" stroke-width="0.7" font-size="65">1000rpm</text>
<path d="M1048.3 1412.5 H1192.1" stroke="#008000" stroke-width="7.8" stroke-linecap="round"/>
<text x="1230.5" y="1437" font-family="Liberation Sans, Arial, sans-serif" stroke="#000" stroke-width="0.7" font-size="65">Shellac</text>
<path d="M1048.3 1491.7 H1192.1" stroke="#000080" stroke-width="7.8" stroke-linecap="round"/>
<text x="1193.5" y="1511" font-family="Liberation Sans, Arial, sans-serif" stroke="#000" stroke-width="0.7" font-size="65">Dulux coating</text>
<text x="589.9" y="1189.3" font-family="Liberation Sans, Arial, sans-serif" stroke="#000" stroke-width="0.25" font-size="64">3400</text>
<text x="546.6999999999999" y="1512.0" font-family="Liberation Sans, Arial, sans-serif" stroke="#000" stroke-width="0.25" font-size="64">3383</text>
<text x="820.1" y="1270.4" font-family="Liberation Sans, Arial, sans-serif" stroke="#000" stroke-width="0.25" font-size="64">2930</text>
<text x="1430.5" y="677.4000000000001" font-family="Liberation Sans, Arial, sans-serif" stroke="#000" stroke-width="0.25" font-size="64">1726</text>
<text x="1711.5" y="427.2" font-family="Liberation Sans, Arial, sans-serif" stroke="#000" stroke-width="0.25" font-size="64">1447</text>
<text x="1718.4" y="760.0" font-family="Liberation Sans, Arial, sans-serif" stroke="#000" stroke-width="0.25" font-size="64">1344</text>
<text x="1623.9" y="1466.7" font-family="Liberation Sans, Arial, sans-serif" stroke="#000" stroke-width="0.25" font-size="64">1570</text>
<text x="1714.4" y="1540.5" font-family="Liberation Sans, Arial, sans-serif" stroke="#000" stroke-width="0.25" font-size="68.5">1750</text>
<path d="M625.6 1137.0 L625.6 1048.3" stroke="#000" stroke-width="3.0"/><path d="M625.6 1017.3 L635.4 1050.3 L615.9 1050.3 Z" fill="#000"/>
<path d="M605.7 1447.3 L605.7 1358.3" stroke="#000" stroke-width="3.0"/><path d="M605.7 1327.3 L615.5 1360.3 L596.0 1360.3 Z" fill="#000"/>
<path d="M888.3 1319.0 L888.3 1464.7" stroke="#000" stroke-width="3.0"/><path d="M888.3 1495.7 L878.5 1462.7 L898.0 1462.7 Z" fill="#000"/>
<path d="M1476.4 612.7 L1563.5 554.8" stroke="#000" stroke-width="3.0"/><path d="M1589.3 537.6 L1566.3 562.5 L1557.4 549.2 Z" fill="#000"/>
<path d="M1744.3 368.7 L1744.3 332.0" stroke="#000" stroke-width="3.0"/><path d="M1744.3 301.0 L1754.0 334.0 L1734.5 334.0 Z" fill="#000"/>
<path d="M1812.3 712.0 L1812.3 641.0" stroke="#000" stroke-width="3.0"/><path d="M1812.3 610.0 L1822.0 643.0 L1802.5 643.0 Z" fill="#000"/>
<path d="M1685.5 1404.0 L1685.5 1275.0" stroke="#000" stroke-width="3.0"/><path d="M1685.5 1244.0 L1695.2 1277.0 L1675.8 1277.0 Z" fill="#000"/>
<path d="M1674.2 1525.7 L1652.1 1533.1" stroke="#000" stroke-width="3.0"/><path d="M1622.7 1542.9 L1651.0 1523.4 L1657.0 1541.5 Z" fill="#000"/>
</svg>
</body></html>
